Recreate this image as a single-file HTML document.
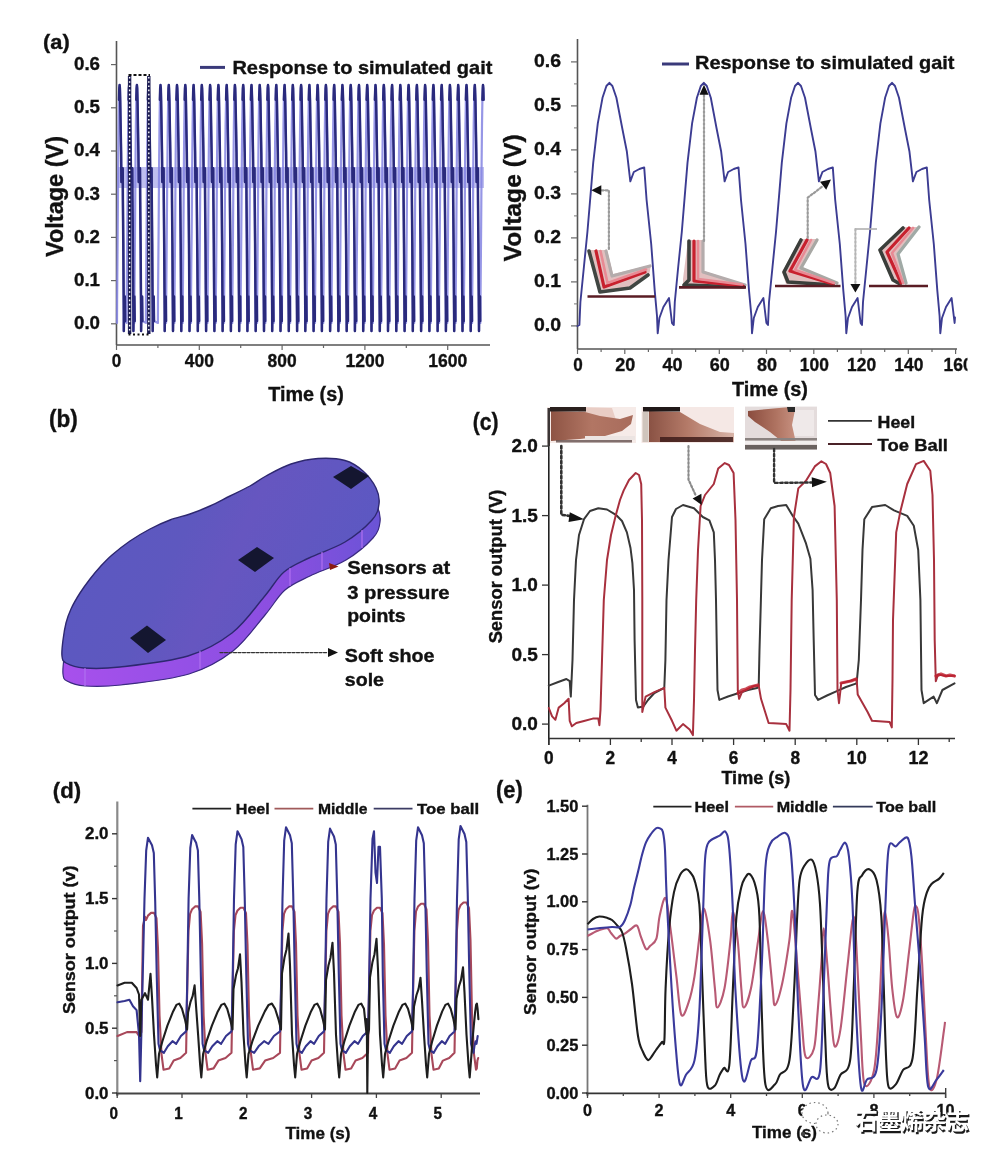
<!DOCTYPE html>
<html><head><meta charset="utf-8"><title>Figure</title>
<style>
html,body{margin:0;padding:0;background:#fff;}
body{width:1000px;height:1164px;overflow:hidden;}
svg{display:block;font-family:'Liberation Sans', Arial, sans-serif;filter:blur(0.45px);}
</style></head><body>
<svg width="1000" height="1164" viewBox="0 0 1000 1164">
<line x1="116.5" y1="41.0" x2="116.5" y2="345.0" stroke="#555" stroke-width="1.6"/>
<line x1="116.5" y1="345.0" x2="490.0" y2="345.0" stroke="#555" stroke-width="1.6"/>
<line x1="111.0" y1="323.8" x2="116.5" y2="323.8" stroke="#666" stroke-width="1.2"/>
<text x="100" y="329.1" font-size="18.5" font-weight="bold" text-anchor="end" fill="#111" stroke="#111" stroke-width="0.35" textLength="26" lengthAdjust="spacingAndGlyphs">0.0</text>
<line x1="111.0" y1="280.6" x2="116.5" y2="280.6" stroke="#666" stroke-width="1.2"/>
<text x="100" y="285.90000000000003" font-size="18.5" font-weight="bold" text-anchor="end" fill="#111" stroke="#111" stroke-width="0.35" textLength="26" lengthAdjust="spacingAndGlyphs">0.1</text>
<line x1="111.0" y1="237.4" x2="116.5" y2="237.4" stroke="#666" stroke-width="1.2"/>
<text x="100" y="242.70000000000002" font-size="18.5" font-weight="bold" text-anchor="end" fill="#111" stroke="#111" stroke-width="0.35" textLength="26" lengthAdjust="spacingAndGlyphs">0.2</text>
<line x1="111.0" y1="194.2" x2="116.5" y2="194.2" stroke="#666" stroke-width="1.2"/>
<text x="100" y="199.5" font-size="18.5" font-weight="bold" text-anchor="end" fill="#111" stroke="#111" stroke-width="0.35" textLength="26" lengthAdjust="spacingAndGlyphs">0.3</text>
<line x1="111.0" y1="151.0" x2="116.5" y2="151.0" stroke="#666" stroke-width="1.2"/>
<text x="100" y="156.3" font-size="18.5" font-weight="bold" text-anchor="end" fill="#111" stroke="#111" stroke-width="0.35" textLength="26" lengthAdjust="spacingAndGlyphs">0.4</text>
<line x1="111.0" y1="107.8" x2="116.5" y2="107.8" stroke="#666" stroke-width="1.2"/>
<text x="100" y="113.10000000000001" font-size="18.5" font-weight="bold" text-anchor="end" fill="#111" stroke="#111" stroke-width="0.35" textLength="26" lengthAdjust="spacingAndGlyphs">0.5</text>
<line x1="111.0" y1="64.6" x2="116.5" y2="64.6" stroke="#666" stroke-width="1.2"/>
<text x="100" y="69.89999999999996" font-size="18.5" font-weight="bold" text-anchor="end" fill="#111" stroke="#111" stroke-width="0.35" textLength="26" lengthAdjust="spacingAndGlyphs">0.6</text>
<line x1="116.5" y1="345.0" x2="116.5" y2="350.0" stroke="#666" stroke-width="1.2"/>
<text x="116.5" y="367" font-size="18.5" font-weight="bold" text-anchor="middle" fill="#111" stroke="#111" stroke-width="0.35" textLength="9.5" lengthAdjust="spacingAndGlyphs">0</text>
<line x1="157.9" y1="345.0" x2="157.9" y2="348.0" stroke="#666" stroke-width="1.2"/>
<line x1="199.3" y1="345.0" x2="199.3" y2="350.0" stroke="#666" stroke-width="1.2"/>
<text x="199.3" y="367" font-size="18.5" font-weight="bold" text-anchor="middle" fill="#111" stroke="#111" stroke-width="0.35" textLength="29" lengthAdjust="spacingAndGlyphs">400</text>
<line x1="240.7" y1="345.0" x2="240.7" y2="348.0" stroke="#666" stroke-width="1.2"/>
<line x1="282.1" y1="345.0" x2="282.1" y2="350.0" stroke="#666" stroke-width="1.2"/>
<text x="282.1" y="367" font-size="18.5" font-weight="bold" text-anchor="middle" fill="#111" stroke="#111" stroke-width="0.35" textLength="29" lengthAdjust="spacingAndGlyphs">800</text>
<line x1="323.5" y1="345.0" x2="323.5" y2="348.0" stroke="#666" stroke-width="1.2"/>
<line x1="364.9" y1="345.0" x2="364.9" y2="350.0" stroke="#666" stroke-width="1.2"/>
<text x="364.9" y="367" font-size="18.5" font-weight="bold" text-anchor="middle" fill="#111" stroke="#111" stroke-width="0.35" textLength="39" lengthAdjust="spacingAndGlyphs">1200</text>
<line x1="406.3" y1="345.0" x2="406.3" y2="348.0" stroke="#666" stroke-width="1.2"/>
<line x1="447.7" y1="345.0" x2="447.7" y2="350.0" stroke="#666" stroke-width="1.2"/>
<text x="447.7" y="367" font-size="18.5" font-weight="bold" text-anchor="middle" fill="#111" stroke="#111" stroke-width="0.35" textLength="39" lengthAdjust="spacingAndGlyphs">1600</text>
<text x="306" y="400.5" font-size="19.5" font-weight="bold" text-anchor="middle" fill="#111" stroke="#111" stroke-width="0.35" textLength="75.5" lengthAdjust="spacingAndGlyphs">Time (s)</text>
<text x="62.5" y="196.5" font-size="23.5" font-weight="bold" text-anchor="middle" fill="#111" stroke="#111" stroke-width="0.35" textLength="121" lengthAdjust="spacingAndGlyphs" transform="rotate(-90 62.5 196.5)">Voltage (V)</text>
<text x="43.1" y="49" font-size="21" font-weight="bold" text-anchor="start" fill="#111" stroke="#111" stroke-width="0.35" textLength="26.7" lengthAdjust="spacingAndGlyphs">(a)</text>
<rect x="118" y="167" width="366" height="21" fill="#8080e0" fill-opacity="0.5"/>
<polyline points="117.0,322.9 117.1,300.3 117.4,266.0 117.7,231.6 118.0,191.0 118.2,163.7 118.6,125.0 119.0,99.8 119.3,88.3 119.6,85.1 119.9,88.3 120.2,99.8 120.7,129.5 121.1,152.3 121.4,181.9 121.7,172.7 122.2,169.8 122.7,168.2 122.9,200.2 123.3,243.4 123.6,288.9 123.8,314.1 123.8,331.1 124.0,316.0 124.3,305.2 124.8,296.4 125.1,321.0 126.6,322.9 126.7,300.3 127.0,266.0 127.3,231.6 127.6,191.0 127.8,163.7 128.2,125.0 128.6,99.8 128.9,88.3 129.2,85.1 129.5,88.3 129.8,99.8 130.3,129.5 130.7,152.3 131.0,181.9 131.3,172.7 131.8,169.8 132.3,168.2 132.5,200.2 132.9,243.4 133.2,288.9 133.4,314.1 133.4,331.1 133.6,316.0 133.9,305.2 134.4,296.4 134.7,321.0 134.3,322.9 134.4,300.3 134.7,266.0 135.0,231.6 135.3,191.0 135.5,163.7 135.9,125.0 136.3,99.8 136.6,88.3 136.9,85.1 137.2,88.3 137.5,99.8 138.0,129.5 138.4,152.3 138.7,181.9 139.0,172.7 139.5,169.8 140.0,168.2 140.2,200.2 140.6,243.4 140.9,288.9 141.1,314.1 141.1,331.1 141.3,316.0 141.6,305.2 142.1,296.4 142.4,321.0 145.9,322.9 146.0,300.3 146.3,266.0 146.6,231.6 146.9,191.0 147.1,163.7 147.5,125.0 147.9,99.8 148.2,88.3 148.5,85.1 148.8,88.3 149.1,99.8 149.6,129.5 150.0,152.3 150.3,181.9 150.6,172.7 151.1,169.8 151.6,168.2 151.8,200.2 152.2,243.4 152.5,288.9 152.7,314.1 152.7,331.1 152.9,316.0 153.2,305.2 153.7,296.4 154.0,321.0 157.9,322.9 158.0,300.3 158.3,266.0 158.6,231.6 158.9,191.0 159.1,163.7 159.5,125.0 159.9,99.8 160.2,88.3 160.5,85.1 160.8,88.3 161.1,99.8 161.6,129.5 162.0,152.3 162.3,181.9 162.6,172.7 163.1,169.8 163.6,168.2 163.8,200.2 164.2,243.4 164.5,288.9 164.7,314.1 164.7,331.1 164.9,316.0 165.2,305.2 165.7,296.4 166.0,321.0 166.1,322.9 166.2,300.3 166.5,266.0 166.8,231.6 167.1,191.0 167.4,163.7 167.8,125.0 168.2,99.8 168.5,88.3 168.8,85.1 169.0,88.3 169.4,99.8 169.9,129.5 170.3,152.3 170.6,181.9 170.9,172.7 171.4,169.8 171.8,168.2 172.0,200.2 172.4,243.4 172.7,288.9 172.9,314.1 173.0,331.1 173.2,316.0 173.5,305.2 174.0,296.4 174.3,321.0 174.4,322.9 174.5,300.3 174.8,266.0 175.1,231.6 175.4,191.0 175.6,163.7 176.0,125.0 176.4,99.8 176.8,88.3 177.0,85.1 177.3,88.3 177.7,99.8 178.2,129.5 178.6,152.3 178.9,181.9 179.2,172.7 179.7,169.8 180.1,168.2 180.3,200.2 180.7,243.4 181.0,288.9 181.2,314.1 181.3,331.1 181.4,316.0 181.8,305.2 182.3,296.4 182.5,321.0 182.7,322.9 182.8,300.3 183.1,266.0 183.4,231.6 183.7,191.0 183.9,163.7 184.3,125.0 184.7,99.8 185.0,88.3 185.3,85.1 185.6,88.3 185.9,99.8 186.4,129.5 186.8,152.3 187.1,181.9 187.4,172.7 187.9,169.8 188.4,168.2 188.6,200.2 189.0,243.4 189.3,288.9 189.5,314.1 189.5,331.1 189.7,316.0 190.0,305.2 190.5,296.4 190.8,321.0 191.0,322.9 191.0,300.3 191.3,266.0 191.7,231.6 192.0,191.0 192.2,163.7 192.6,125.0 193.0,99.8 193.3,88.3 193.6,85.1 193.8,88.3 194.2,99.8 194.7,129.5 195.1,152.3 195.4,181.9 195.7,172.7 196.2,169.8 196.6,168.2 196.8,200.2 197.2,243.4 197.6,288.9 197.8,314.1 197.8,331.1 198.0,316.0 198.3,305.2 198.8,296.4 199.1,321.0 199.2,322.9 199.3,300.3 199.6,266.0 199.9,231.6 200.2,191.0 200.4,163.7 200.8,125.0 201.2,99.8 201.6,88.3 201.8,85.1 202.1,88.3 202.5,99.8 203.0,129.5 203.4,152.3 203.7,181.9 204.0,172.7 204.5,169.8 204.9,168.2 205.1,200.2 205.5,243.4 205.8,288.9 206.0,314.1 206.1,331.1 206.2,316.0 206.6,305.2 207.1,296.4 207.3,321.0 207.5,322.9 207.6,300.3 207.9,266.0 208.2,231.6 208.5,191.0 208.7,163.7 209.1,125.0 209.5,99.8 209.9,88.3 210.1,85.1 210.4,88.3 210.7,99.8 211.2,129.5 211.6,152.3 212.0,181.9 212.3,172.7 212.7,169.8 213.2,168.2 213.4,200.2 213.8,243.4 214.1,288.9 214.3,314.1 214.4,331.1 214.5,316.0 214.9,305.2 215.3,296.4 215.6,321.0 215.8,322.9 215.8,300.3 216.2,266.0 216.5,231.6 216.8,191.0 217.0,163.7 217.4,125.0 217.8,99.8 218.1,88.3 218.4,85.1 218.7,88.3 219.0,99.8 219.5,129.5 219.9,152.3 220.2,181.9 220.5,172.7 221.0,169.8 221.4,168.2 221.7,200.2 222.1,243.4 222.4,288.9 222.6,314.1 222.6,331.1 222.8,316.0 223.1,305.2 223.6,296.4 223.9,321.0 224.0,322.9 224.1,300.3 224.4,266.0 224.7,231.6 225.0,191.0 225.2,163.7 225.6,125.0 226.1,99.8 226.4,88.3 226.7,85.1 226.9,88.3 227.3,99.8 227.8,129.5 228.2,152.3 228.5,181.9 228.8,172.7 229.3,169.8 229.7,168.2 229.9,200.2 230.3,243.4 230.6,288.9 230.8,314.1 230.9,331.1 231.0,316.0 231.4,305.2 231.9,296.4 232.1,321.0 232.3,322.9 232.4,300.3 232.7,266.0 233.0,231.6 233.3,191.0 233.5,163.7 233.9,125.0 234.3,99.8 234.7,88.3 234.9,85.1 235.2,88.3 235.5,99.8 236.1,129.5 236.5,152.3 236.8,181.9 237.1,172.7 237.6,169.8 238.0,168.2 238.2,200.2 238.6,243.4 238.9,288.9 239.1,314.1 239.2,331.1 239.3,316.0 239.7,305.2 240.2,296.4 240.4,321.0 240.6,322.9 240.7,300.3 241.0,266.0 241.3,231.6 241.6,191.0 241.8,163.7 242.2,125.0 242.6,99.8 242.9,88.3 243.2,85.1 243.5,88.3 243.8,99.8 244.3,129.5 244.7,152.3 245.0,181.9 245.3,172.7 245.8,169.8 246.3,168.2 246.5,200.2 246.9,243.4 247.2,288.9 247.4,314.1 247.4,331.1 247.6,316.0 247.9,305.2 248.4,296.4 248.7,321.0 248.8,322.9 248.9,300.3 249.2,266.0 249.5,231.6 249.8,191.0 250.1,163.7 250.5,125.0 250.9,99.8 251.2,88.3 251.5,85.1 251.7,88.3 252.1,99.8 252.6,129.5 253.0,152.3 253.3,181.9 253.6,172.7 254.1,169.8 254.5,168.2 254.7,200.2 255.1,243.4 255.4,288.9 255.6,314.1 255.7,331.1 255.9,316.0 256.2,305.2 256.7,296.4 257.0,321.0 257.1,322.9 257.2,300.3 257.5,266.0 257.8,231.6 258.1,191.0 258.3,163.7 258.7,125.0 259.1,99.8 259.5,88.3 259.7,85.1 260.0,88.3 260.4,99.8 260.9,129.5 261.3,152.3 261.6,181.9 261.9,172.7 262.4,169.8 262.8,168.2 263.0,200.2 263.4,243.4 263.7,288.9 263.9,314.1 264.0,331.1 264.1,316.0 264.5,305.2 265.0,296.4 265.2,321.0 265.4,322.9 265.5,300.3 265.8,266.0 266.1,231.6 266.4,191.0 266.6,163.7 267.0,125.0 267.4,99.8 267.7,88.3 268.0,85.1 268.3,88.3 268.6,99.8 269.1,129.5 269.5,152.3 269.8,181.9 270.1,172.7 270.6,169.8 271.1,168.2 271.3,200.2 271.7,243.4 272.0,288.9 272.2,314.1 272.2,331.1 272.4,316.0 272.7,305.2 273.2,296.4 273.5,321.0 273.7,322.9 273.7,300.3 274.0,266.0 274.4,231.6 274.7,191.0 274.9,163.7 275.3,125.0 275.7,99.8 276.0,88.3 276.3,85.1 276.5,88.3 276.9,99.8 277.4,129.5 277.8,152.3 278.1,181.9 278.4,172.7 278.9,169.8 279.3,168.2 279.5,200.2 279.9,243.4 280.3,288.9 280.5,314.1 280.5,331.1 280.7,316.0 281.0,305.2 281.5,296.4 281.8,321.0 281.9,322.9 282.0,300.3 282.3,266.0 282.6,231.6 282.9,191.0 283.1,163.7 283.5,125.0 283.9,99.8 284.3,88.3 284.6,85.1 284.8,88.3 285.2,99.8 285.7,129.5 286.1,152.3 286.4,181.9 286.7,172.7 287.2,169.8 287.6,168.2 287.8,200.2 288.2,243.4 288.5,288.9 288.7,314.1 288.8,331.1 288.9,316.0 289.3,305.2 289.8,296.4 290.0,321.0 290.2,322.9 290.3,300.3 290.6,266.0 290.9,231.6 291.2,191.0 291.4,163.7 291.8,125.0 292.2,99.8 292.6,88.3 292.8,85.1 293.1,88.3 293.4,99.8 293.9,129.5 294.3,152.3 294.7,181.9 295.0,172.7 295.4,169.8 295.9,168.2 296.1,200.2 296.5,243.4 296.8,288.9 297.0,314.1 297.1,331.1 297.2,316.0 297.6,305.2 298.0,296.4 298.3,321.0 298.5,322.9 298.5,300.3 298.9,266.0 299.2,231.6 299.5,191.0 299.7,163.7 300.1,125.0 300.5,99.8 300.8,88.3 301.1,85.1 301.4,88.3 301.7,99.8 302.2,129.5 302.6,152.3 302.9,181.9 303.2,172.7 303.7,169.8 304.1,168.2 304.4,200.2 304.8,243.4 305.1,288.9 305.3,314.1 305.3,331.1 305.5,316.0 305.8,305.2 306.3,296.4 306.6,321.0 306.7,322.9 306.8,300.3 307.1,266.0 307.4,231.6 307.7,191.0 307.9,163.7 308.3,125.0 308.8,99.8 309.1,88.3 309.4,85.1 309.6,88.3 310.0,99.8 310.5,129.5 310.9,152.3 311.2,181.9 311.5,172.7 312.0,169.8 312.4,168.2 312.6,200.2 313.0,243.4 313.3,288.9 313.5,314.1 313.6,331.1 313.7,316.0 314.1,305.2 314.6,296.4 314.8,321.0 315.0,322.9 315.1,300.3 315.4,266.0 315.7,231.6 316.0,191.0 316.2,163.7 316.6,125.0 317.0,99.8 317.4,88.3 317.6,85.1 317.9,88.3 318.2,99.8 318.8,129.5 319.2,152.3 319.5,181.9 319.8,172.7 320.3,169.8 320.7,168.2 320.9,200.2 321.3,243.4 321.6,288.9 321.8,314.1 321.9,331.1 322.0,316.0 322.4,305.2 322.9,296.4 323.1,321.0 323.3,322.9 323.4,300.3 323.7,266.0 324.0,231.6 324.3,191.0 324.5,163.7 324.9,125.0 325.3,99.8 325.6,88.3 325.9,85.1 326.2,88.3 326.5,99.8 327.0,129.5 327.4,152.3 327.7,181.9 328.0,172.7 328.5,169.8 329.0,168.2 329.2,200.2 329.6,243.4 329.9,288.9 330.1,314.1 330.1,331.1 330.3,316.0 330.6,305.2 331.1,296.4 331.4,321.0 331.5,322.9 331.6,300.3 331.9,266.0 332.2,231.6 332.5,191.0 332.8,163.7 333.2,125.0 333.6,99.8 333.9,88.3 334.2,85.1 334.4,88.3 334.8,99.8 335.3,129.5 335.7,152.3 336.0,181.9 336.3,172.7 336.8,169.8 337.2,168.2 337.4,200.2 337.8,243.4 338.1,288.9 338.3,314.1 338.4,331.1 338.6,316.0 338.9,305.2 339.4,296.4 339.7,321.0 339.8,322.9 339.9,300.3 340.2,266.0 340.5,231.6 340.8,191.0 341.0,163.7 341.4,125.0 341.8,99.8 342.2,88.3 342.4,85.1 342.7,88.3 343.1,99.8 343.6,129.5 344.0,152.3 344.3,181.9 344.6,172.7 345.1,169.8 345.5,168.2 345.7,200.2 346.1,243.4 346.4,288.9 346.6,314.1 346.7,331.1 346.8,316.0 347.2,305.2 347.7,296.4 347.9,321.0 348.1,322.9 348.2,300.3 348.5,266.0 348.8,231.6 349.1,191.0 349.3,163.7 349.7,125.0 350.1,99.8 350.4,88.3 350.7,85.1 351.0,88.3 351.3,99.8 351.8,129.5 352.2,152.3 352.5,181.9 352.8,172.7 353.3,169.8 353.8,168.2 354.0,200.2 354.4,243.4 354.7,288.9 354.9,314.1 354.9,331.1 355.1,316.0 355.4,305.2 355.9,296.4 356.2,321.0 356.4,322.9 356.4,300.3 356.7,266.0 357.1,231.6 357.4,191.0 357.6,163.7 358.0,125.0 358.4,99.8 358.7,88.3 359.0,85.1 359.2,88.3 359.6,99.8 360.1,129.5 360.5,152.3 360.8,181.9 361.1,172.7 361.6,169.8 362.0,168.2 362.2,200.2 362.6,243.4 363.0,288.9 363.2,314.1 363.2,331.1 363.4,316.0 363.7,305.2 364.2,296.4 364.5,321.0 364.6,322.9 364.7,300.3 365.0,266.0 365.3,231.6 365.6,191.0 365.8,163.7 366.2,125.0 366.6,99.8 367.0,88.3 367.2,85.1 367.5,88.3 367.9,99.8 368.4,129.5 368.8,152.3 369.1,181.9 369.4,172.7 369.9,169.8 370.3,168.2 370.5,200.2 370.9,243.4 371.2,288.9 371.4,314.1 371.5,331.1 371.6,316.0 372.0,305.2 372.5,296.4 372.7,321.0 372.9,322.9 373.0,300.3 373.3,266.0 373.6,231.6 373.9,191.0 374.1,163.7 374.5,125.0 374.9,99.8 375.3,88.3 375.5,85.1 375.8,88.3 376.1,99.8 376.6,129.5 377.0,152.3 377.4,181.9 377.7,172.7 378.1,169.8 378.6,168.2 378.8,200.2 379.2,243.4 379.5,288.9 379.7,314.1 379.8,331.1 379.9,316.0 380.3,305.2 380.7,296.4 381.0,321.0 381.2,322.9 381.2,300.3 381.6,266.0 381.9,231.6 382.2,191.0 382.4,163.7 382.8,125.0 383.2,99.8 383.5,88.3 383.8,85.1 384.1,88.3 384.4,99.8 384.9,129.5 385.3,152.3 385.6,181.9 385.9,172.7 386.4,169.8 386.8,168.2 387.1,200.2 387.5,243.4 387.8,288.9 388.0,314.1 388.0,331.1 388.2,316.0 388.5,305.2 389.0,296.4 389.3,321.0 389.4,322.9 389.5,300.3 389.8,266.0 390.1,231.6 390.4,191.0 390.6,163.7 391.0,125.0 391.5,99.8 391.8,88.3 392.1,85.1 392.3,88.3 392.7,99.8 393.2,129.5 393.6,152.3 393.9,181.9 394.2,172.7 394.7,169.8 395.1,168.2 395.3,200.2 395.7,243.4 396.0,288.9 396.2,314.1 396.3,331.1 396.4,316.0 396.8,305.2 397.3,296.4 397.5,321.0 397.7,322.9 397.8,300.3 398.1,266.0 398.4,231.6 398.7,191.0 398.9,163.7 399.3,125.0 399.7,99.8 400.1,88.3 400.3,85.1 400.6,88.3 400.9,99.8 401.5,129.5 401.9,152.3 402.2,181.9 402.5,172.7 403.0,169.8 403.4,168.2 403.6,200.2 404.0,243.4 404.3,288.9 404.5,314.1 404.6,331.1 404.7,316.0 405.1,305.2 405.6,296.4 405.8,321.0 406.0,322.9 406.1,300.3 406.4,266.0 406.7,231.6 407.0,191.0 407.2,163.7 407.6,125.0 408.0,99.8 408.3,88.3 408.6,85.1 408.9,88.3 409.2,99.8 409.7,129.5 410.1,152.3 410.4,181.9 410.7,172.7 411.2,169.8 411.7,168.2 411.9,200.2 412.3,243.4 412.6,288.9 412.8,314.1 412.8,331.1 413.0,316.0 413.3,305.2 413.8,296.4 414.1,321.0 414.2,322.9 414.3,300.3 414.6,266.0 414.9,231.6 415.2,191.0 415.5,163.7 415.9,125.0 416.3,99.8 416.6,88.3 416.9,85.1 417.1,88.3 417.5,99.8 418.0,129.5 418.4,152.3 418.7,181.9 419.0,172.7 419.5,169.8 419.9,168.2 420.1,200.2 420.5,243.4 420.8,288.9 421.0,314.1 421.1,331.1 421.3,316.0 421.6,305.2 422.1,296.4 422.4,321.0 422.5,322.9 422.6,300.3 422.9,266.0 423.2,231.6 423.5,191.0 423.7,163.7 424.1,125.0 424.5,99.8 424.9,88.3 425.1,85.1 425.4,88.3 425.8,99.8 426.3,129.5 426.7,152.3 427.0,181.9 427.3,172.7 427.8,169.8 428.2,168.2 428.4,200.2 428.8,243.4 429.1,288.9 429.3,314.1 429.4,331.1 429.5,316.0 429.9,305.2 430.4,296.4 430.6,321.0 430.8,322.9 430.9,300.3 431.2,266.0 431.5,231.6 431.8,191.0 432.0,163.7 432.4,125.0 432.8,99.8 433.1,88.3 433.4,85.1 433.7,88.3 434.0,99.8 434.5,129.5 434.9,152.3 435.2,181.9 435.5,172.7 436.0,169.8 436.5,168.2 436.7,200.2 437.1,243.4 437.4,288.9 437.6,314.1 437.6,331.1 437.8,316.0 438.1,305.2 438.6,296.4 438.9,321.0 439.1,322.9 439.1,300.3 439.4,266.0 439.8,231.6 440.1,191.0 440.3,163.7 440.7,125.0 441.1,99.8 441.4,88.3 441.7,85.1 441.9,88.3 442.3,99.8 442.8,129.5 443.2,152.3 443.5,181.9 443.8,172.7 444.3,169.8 444.7,168.2 444.9,200.2 445.3,243.4 445.7,288.9 445.9,314.1 445.9,331.1 446.1,316.0 446.4,305.2 446.9,296.4 447.2,321.0 447.3,322.9 447.4,300.3 447.7,266.0 448.0,231.6 448.3,191.0 448.5,163.7 448.9,125.0 449.3,99.8 449.7,88.3 449.9,85.1 450.2,88.3 450.6,99.8 451.1,129.5 451.5,152.3 451.8,181.9 452.1,172.7 452.6,169.8 453.0,168.2 453.2,200.2 453.6,243.4 453.9,288.9 454.1,314.1 454.2,331.1 454.3,316.0 454.7,305.2 455.2,296.4 455.4,321.0 455.6,322.9 455.7,300.3 456.0,266.0 456.3,231.6 456.6,191.0 456.8,163.7 457.2,125.0 457.6,99.8 458.0,88.3 458.2,85.1 458.5,88.3 458.8,99.8 459.3,129.5 459.7,152.3 460.1,181.9 460.4,172.7 460.8,169.8 461.3,168.2 461.5,200.2 461.9,243.4 462.2,288.9 462.4,314.1 462.5,331.1 462.6,316.0 463.0,305.2 463.4,296.4 463.7,321.0 463.9,322.9 463.9,300.3 464.3,266.0 464.6,231.6 464.9,191.0 465.1,163.7 465.5,125.0 465.9,99.8 466.2,88.3 466.5,85.1 466.8,88.3 467.1,99.8 467.6,129.5 468.0,152.3 468.3,181.9 468.6,172.7 469.1,169.8 469.5,168.2 469.8,200.2 470.2,243.4 470.5,288.9 470.7,314.1 470.7,331.1 470.9,316.0 471.2,305.2 471.7,296.4 472.0,321.0 472.1,322.9 472.2,300.3 472.5,266.0 472.8,231.6 473.1,191.0 473.3,163.7 473.7,125.0 474.2,99.8 474.5,88.3 474.8,85.1 475.0,88.3 475.4,99.8 475.9,129.5 476.3,152.3 476.6,181.9 476.9,172.7 477.4,169.8 477.8,168.2 478.0,200.2 478.4,243.4 478.7,288.9 478.9,314.1 479.0,331.1 479.1,316.0 479.5,305.2 480.0,296.4 480.2,321.0 480.4,322.9 480.5,300.3 480.8,266.0 481.1,231.6 481.4,191.0 481.6,163.7 482.0,125.0 482.4,99.8 482.8,88.3 483.0,85.1 483.3,88.3 483.6,99.8" fill="none" stroke="#8484e2" stroke-width="2.2" stroke-linejoin="round" stroke-linecap="round" stroke-opacity="0.85"/>
<polyline points="119.0,99.8 119.3,88.3 119.6,85.1 119.9,88.3 120.2,99.8 120.7,129.5 121.1,152.3 121.4,181.9 121.7,172.7 122.2,169.8 122.7,168.2 122.9,200.2 123.3,243.4 123.6,288.9 123.8,314.1 123.8,331.1 124.0,316.0 124.3,305.2 124.8,296.4 125.1,321.0" fill="none" stroke="#2a2a7c" stroke-width="2.5" stroke-linejoin="round" stroke-linecap="round"/>
<polyline points="128.6,99.8 128.9,88.3 129.2,85.1 129.5,88.3 129.8,99.8 130.3,129.5 130.7,152.3 131.0,181.9 131.3,172.7 131.8,169.8 132.3,168.2 132.5,200.2 132.9,243.4 133.2,288.9 133.4,314.1 133.4,331.1 133.6,316.0 133.9,305.2 134.4,296.4 134.7,321.0" fill="none" stroke="#2a2a7c" stroke-width="2.5" stroke-linejoin="round" stroke-linecap="round"/>
<polyline points="136.3,99.8 136.6,88.3 136.9,85.1 137.2,88.3 137.5,99.8 138.0,129.5 138.4,152.3 138.7,181.9 139.0,172.7 139.5,169.8 140.0,168.2 140.2,200.2 140.6,243.4 140.9,288.9 141.1,314.1 141.1,331.1 141.3,316.0 141.6,305.2 142.1,296.4 142.4,321.0" fill="none" stroke="#2a2a7c" stroke-width="2.5" stroke-linejoin="round" stroke-linecap="round"/>
<polyline points="147.9,99.8 148.2,88.3 148.5,85.1 148.8,88.3 149.1,99.8 149.6,129.5 150.0,152.3 150.3,181.9 150.6,172.7 151.1,169.8 151.6,168.2 151.8,200.2 152.2,243.4 152.5,288.9 152.7,314.1 152.7,331.1 152.9,316.0 153.2,305.2 153.7,296.4 154.0,321.0" fill="none" stroke="#2a2a7c" stroke-width="2.5" stroke-linejoin="round" stroke-linecap="round"/>
<polyline points="159.9,99.8 160.2,88.3 160.5,85.1 160.8,88.3 161.1,99.8 161.6,129.5 162.0,152.3 162.3,181.9 162.6,172.7 163.1,169.8 163.6,168.2 163.8,200.2 164.2,243.4 164.5,288.9 164.7,314.1 164.7,331.1 164.9,316.0 165.2,305.2 165.7,296.4 166.0,321.0" fill="none" stroke="#2a2a7c" stroke-width="2.5" stroke-linejoin="round" stroke-linecap="round"/>
<polyline points="168.2,99.8 168.5,88.3 168.8,85.1 169.0,88.3 169.4,99.8 169.9,129.5 170.3,152.3 170.6,181.9 170.9,172.7 171.4,169.8 171.8,168.2 172.0,200.2 172.4,243.4 172.7,288.9 172.9,314.1 173.0,331.1 173.2,316.0 173.5,305.2 174.0,296.4 174.3,321.0" fill="none" stroke="#2a2a7c" stroke-width="2.5" stroke-linejoin="round" stroke-linecap="round"/>
<polyline points="176.4,99.8 176.8,88.3 177.0,85.1 177.3,88.3 177.7,99.8 178.2,129.5 178.6,152.3 178.9,181.9 179.2,172.7 179.7,169.8 180.1,168.2 180.3,200.2 180.7,243.4 181.0,288.9 181.2,314.1 181.3,331.1 181.4,316.0 181.8,305.2 182.3,296.4 182.5,321.0" fill="none" stroke="#2a2a7c" stroke-width="2.5" stroke-linejoin="round" stroke-linecap="round"/>
<polyline points="184.7,99.8 185.0,88.3 185.3,85.1 185.6,88.3 185.9,99.8 186.4,129.5 186.8,152.3 187.1,181.9 187.4,172.7 187.9,169.8 188.4,168.2 188.6,200.2 189.0,243.4 189.3,288.9 189.5,314.1 189.5,331.1 189.7,316.0 190.0,305.2 190.5,296.4 190.8,321.0" fill="none" stroke="#2a2a7c" stroke-width="2.5" stroke-linejoin="round" stroke-linecap="round"/>
<polyline points="193.0,99.8 193.3,88.3 193.6,85.1 193.8,88.3 194.2,99.8 194.7,129.5 195.1,152.3 195.4,181.9 195.7,172.7 196.2,169.8 196.6,168.2 196.8,200.2 197.2,243.4 197.6,288.9 197.8,314.1 197.8,331.1 198.0,316.0 198.3,305.2 198.8,296.4 199.1,321.0" fill="none" stroke="#2a2a7c" stroke-width="2.5" stroke-linejoin="round" stroke-linecap="round"/>
<polyline points="201.2,99.8 201.6,88.3 201.8,85.1 202.1,88.3 202.5,99.8 203.0,129.5 203.4,152.3 203.7,181.9 204.0,172.7 204.5,169.8 204.9,168.2 205.1,200.2 205.5,243.4 205.8,288.9 206.0,314.1 206.1,331.1 206.2,316.0 206.6,305.2 207.1,296.4 207.3,321.0" fill="none" stroke="#2a2a7c" stroke-width="2.5" stroke-linejoin="round" stroke-linecap="round"/>
<polyline points="209.5,99.8 209.9,88.3 210.1,85.1 210.4,88.3 210.7,99.8 211.2,129.5 211.6,152.3 212.0,181.9 212.3,172.7 212.7,169.8 213.2,168.2 213.4,200.2 213.8,243.4 214.1,288.9 214.3,314.1 214.4,331.1 214.5,316.0 214.9,305.2 215.3,296.4 215.6,321.0" fill="none" stroke="#2a2a7c" stroke-width="2.5" stroke-linejoin="round" stroke-linecap="round"/>
<polyline points="217.8,99.8 218.1,88.3 218.4,85.1 218.7,88.3 219.0,99.8 219.5,129.5 219.9,152.3 220.2,181.9 220.5,172.7 221.0,169.8 221.4,168.2 221.7,200.2 222.1,243.4 222.4,288.9 222.6,314.1 222.6,331.1 222.8,316.0 223.1,305.2 223.6,296.4 223.9,321.0" fill="none" stroke="#2a2a7c" stroke-width="2.5" stroke-linejoin="round" stroke-linecap="round"/>
<polyline points="226.1,99.8 226.4,88.3 226.7,85.1 226.9,88.3 227.3,99.8 227.8,129.5 228.2,152.3 228.5,181.9 228.8,172.7 229.3,169.8 229.7,168.2 229.9,200.2 230.3,243.4 230.6,288.9 230.8,314.1 230.9,331.1 231.0,316.0 231.4,305.2 231.9,296.4 232.1,321.0" fill="none" stroke="#2a2a7c" stroke-width="2.5" stroke-linejoin="round" stroke-linecap="round"/>
<polyline points="234.3,99.8 234.7,88.3 234.9,85.1 235.2,88.3 235.5,99.8 236.1,129.5 236.5,152.3 236.8,181.9 237.1,172.7 237.6,169.8 238.0,168.2 238.2,200.2 238.6,243.4 238.9,288.9 239.1,314.1 239.2,331.1 239.3,316.0 239.7,305.2 240.2,296.4 240.4,321.0" fill="none" stroke="#2a2a7c" stroke-width="2.5" stroke-linejoin="round" stroke-linecap="round"/>
<polyline points="242.6,99.8 242.9,88.3 243.2,85.1 243.5,88.3 243.8,99.8 244.3,129.5 244.7,152.3 245.0,181.9 245.3,172.7 245.8,169.8 246.3,168.2 246.5,200.2 246.9,243.4 247.2,288.9 247.4,314.1 247.4,331.1 247.6,316.0 247.9,305.2 248.4,296.4 248.7,321.0" fill="none" stroke="#2a2a7c" stroke-width="2.5" stroke-linejoin="round" stroke-linecap="round"/>
<polyline points="250.9,99.8 251.2,88.3 251.5,85.1 251.7,88.3 252.1,99.8 252.6,129.5 253.0,152.3 253.3,181.9 253.6,172.7 254.1,169.8 254.5,168.2 254.7,200.2 255.1,243.4 255.4,288.9 255.6,314.1 255.7,331.1 255.9,316.0 256.2,305.2 256.7,296.4 257.0,321.0" fill="none" stroke="#2a2a7c" stroke-width="2.5" stroke-linejoin="round" stroke-linecap="round"/>
<polyline points="259.1,99.8 259.5,88.3 259.7,85.1 260.0,88.3 260.4,99.8 260.9,129.5 261.3,152.3 261.6,181.9 261.9,172.7 262.4,169.8 262.8,168.2 263.0,200.2 263.4,243.4 263.7,288.9 263.9,314.1 264.0,331.1 264.1,316.0 264.5,305.2 265.0,296.4 265.2,321.0" fill="none" stroke="#2a2a7c" stroke-width="2.5" stroke-linejoin="round" stroke-linecap="round"/>
<polyline points="267.4,99.8 267.7,88.3 268.0,85.1 268.3,88.3 268.6,99.8 269.1,129.5 269.5,152.3 269.8,181.9 270.1,172.7 270.6,169.8 271.1,168.2 271.3,200.2 271.7,243.4 272.0,288.9 272.2,314.1 272.2,331.1 272.4,316.0 272.7,305.2 273.2,296.4 273.5,321.0" fill="none" stroke="#2a2a7c" stroke-width="2.5" stroke-linejoin="round" stroke-linecap="round"/>
<polyline points="275.7,99.8 276.0,88.3 276.3,85.1 276.5,88.3 276.9,99.8 277.4,129.5 277.8,152.3 278.1,181.9 278.4,172.7 278.9,169.8 279.3,168.2 279.5,200.2 279.9,243.4 280.3,288.9 280.5,314.1 280.5,331.1 280.7,316.0 281.0,305.2 281.5,296.4 281.8,321.0" fill="none" stroke="#2a2a7c" stroke-width="2.5" stroke-linejoin="round" stroke-linecap="round"/>
<polyline points="283.9,99.8 284.3,88.3 284.6,85.1 284.8,88.3 285.2,99.8 285.7,129.5 286.1,152.3 286.4,181.9 286.7,172.7 287.2,169.8 287.6,168.2 287.8,200.2 288.2,243.4 288.5,288.9 288.7,314.1 288.8,331.1 288.9,316.0 289.3,305.2 289.8,296.4 290.0,321.0" fill="none" stroke="#2a2a7c" stroke-width="2.5" stroke-linejoin="round" stroke-linecap="round"/>
<polyline points="292.2,99.8 292.6,88.3 292.8,85.1 293.1,88.3 293.4,99.8 293.9,129.5 294.3,152.3 294.7,181.9 295.0,172.7 295.4,169.8 295.9,168.2 296.1,200.2 296.5,243.4 296.8,288.9 297.0,314.1 297.1,331.1 297.2,316.0 297.6,305.2 298.0,296.4 298.3,321.0" fill="none" stroke="#2a2a7c" stroke-width="2.5" stroke-linejoin="round" stroke-linecap="round"/>
<polyline points="300.5,99.8 300.8,88.3 301.1,85.1 301.4,88.3 301.7,99.8 302.2,129.5 302.6,152.3 302.9,181.9 303.2,172.7 303.7,169.8 304.1,168.2 304.4,200.2 304.8,243.4 305.1,288.9 305.3,314.1 305.3,331.1 305.5,316.0 305.8,305.2 306.3,296.4 306.6,321.0" fill="none" stroke="#2a2a7c" stroke-width="2.5" stroke-linejoin="round" stroke-linecap="round"/>
<polyline points="308.8,99.8 309.1,88.3 309.4,85.1 309.6,88.3 310.0,99.8 310.5,129.5 310.9,152.3 311.2,181.9 311.5,172.7 312.0,169.8 312.4,168.2 312.6,200.2 313.0,243.4 313.3,288.9 313.5,314.1 313.6,331.1 313.7,316.0 314.1,305.2 314.6,296.4 314.8,321.0" fill="none" stroke="#2a2a7c" stroke-width="2.5" stroke-linejoin="round" stroke-linecap="round"/>
<polyline points="317.0,99.8 317.4,88.3 317.6,85.1 317.9,88.3 318.2,99.8 318.8,129.5 319.2,152.3 319.5,181.9 319.8,172.7 320.3,169.8 320.7,168.2 320.9,200.2 321.3,243.4 321.6,288.9 321.8,314.1 321.9,331.1 322.0,316.0 322.4,305.2 322.9,296.4 323.1,321.0" fill="none" stroke="#2a2a7c" stroke-width="2.5" stroke-linejoin="round" stroke-linecap="round"/>
<polyline points="325.3,99.8 325.6,88.3 325.9,85.1 326.2,88.3 326.5,99.8 327.0,129.5 327.4,152.3 327.7,181.9 328.0,172.7 328.5,169.8 329.0,168.2 329.2,200.2 329.6,243.4 329.9,288.9 330.1,314.1 330.1,331.1 330.3,316.0 330.6,305.2 331.1,296.4 331.4,321.0" fill="none" stroke="#2a2a7c" stroke-width="2.5" stroke-linejoin="round" stroke-linecap="round"/>
<polyline points="333.6,99.8 333.9,88.3 334.2,85.1 334.4,88.3 334.8,99.8 335.3,129.5 335.7,152.3 336.0,181.9 336.3,172.7 336.8,169.8 337.2,168.2 337.4,200.2 337.8,243.4 338.1,288.9 338.3,314.1 338.4,331.1 338.6,316.0 338.9,305.2 339.4,296.4 339.7,321.0" fill="none" stroke="#2a2a7c" stroke-width="2.5" stroke-linejoin="round" stroke-linecap="round"/>
<polyline points="341.8,99.8 342.2,88.3 342.4,85.1 342.7,88.3 343.1,99.8 343.6,129.5 344.0,152.3 344.3,181.9 344.6,172.7 345.1,169.8 345.5,168.2 345.7,200.2 346.1,243.4 346.4,288.9 346.6,314.1 346.7,331.1 346.8,316.0 347.2,305.2 347.7,296.4 347.9,321.0" fill="none" stroke="#2a2a7c" stroke-width="2.5" stroke-linejoin="round" stroke-linecap="round"/>
<polyline points="350.1,99.8 350.4,88.3 350.7,85.1 351.0,88.3 351.3,99.8 351.8,129.5 352.2,152.3 352.5,181.9 352.8,172.7 353.3,169.8 353.8,168.2 354.0,200.2 354.4,243.4 354.7,288.9 354.9,314.1 354.9,331.1 355.1,316.0 355.4,305.2 355.9,296.4 356.2,321.0" fill="none" stroke="#2a2a7c" stroke-width="2.5" stroke-linejoin="round" stroke-linecap="round"/>
<polyline points="358.4,99.8 358.7,88.3 359.0,85.1 359.2,88.3 359.6,99.8 360.1,129.5 360.5,152.3 360.8,181.9 361.1,172.7 361.6,169.8 362.0,168.2 362.2,200.2 362.6,243.4 363.0,288.9 363.2,314.1 363.2,331.1 363.4,316.0 363.7,305.2 364.2,296.4 364.5,321.0" fill="none" stroke="#2a2a7c" stroke-width="2.5" stroke-linejoin="round" stroke-linecap="round"/>
<polyline points="366.6,99.8 367.0,88.3 367.2,85.1 367.5,88.3 367.9,99.8 368.4,129.5 368.8,152.3 369.1,181.9 369.4,172.7 369.9,169.8 370.3,168.2 370.5,200.2 370.9,243.4 371.2,288.9 371.4,314.1 371.5,331.1 371.6,316.0 372.0,305.2 372.5,296.4 372.7,321.0" fill="none" stroke="#2a2a7c" stroke-width="2.5" stroke-linejoin="round" stroke-linecap="round"/>
<polyline points="374.9,99.8 375.3,88.3 375.5,85.1 375.8,88.3 376.1,99.8 376.6,129.5 377.0,152.3 377.4,181.9 377.7,172.7 378.1,169.8 378.6,168.2 378.8,200.2 379.2,243.4 379.5,288.9 379.7,314.1 379.8,331.1 379.9,316.0 380.3,305.2 380.7,296.4 381.0,321.0" fill="none" stroke="#2a2a7c" stroke-width="2.5" stroke-linejoin="round" stroke-linecap="round"/>
<polyline points="383.2,99.8 383.5,88.3 383.8,85.1 384.1,88.3 384.4,99.8 384.9,129.5 385.3,152.3 385.6,181.9 385.9,172.7 386.4,169.8 386.8,168.2 387.1,200.2 387.5,243.4 387.8,288.9 388.0,314.1 388.0,331.1 388.2,316.0 388.5,305.2 389.0,296.4 389.3,321.0" fill="none" stroke="#2a2a7c" stroke-width="2.5" stroke-linejoin="round" stroke-linecap="round"/>
<polyline points="391.5,99.8 391.8,88.3 392.1,85.1 392.3,88.3 392.7,99.8 393.2,129.5 393.6,152.3 393.9,181.9 394.2,172.7 394.7,169.8 395.1,168.2 395.3,200.2 395.7,243.4 396.0,288.9 396.2,314.1 396.3,331.1 396.4,316.0 396.8,305.2 397.3,296.4 397.5,321.0" fill="none" stroke="#2a2a7c" stroke-width="2.5" stroke-linejoin="round" stroke-linecap="round"/>
<polyline points="399.7,99.8 400.1,88.3 400.3,85.1 400.6,88.3 400.9,99.8 401.5,129.5 401.9,152.3 402.2,181.9 402.5,172.7 403.0,169.8 403.4,168.2 403.6,200.2 404.0,243.4 404.3,288.9 404.5,314.1 404.6,331.1 404.7,316.0 405.1,305.2 405.6,296.4 405.8,321.0" fill="none" stroke="#2a2a7c" stroke-width="2.5" stroke-linejoin="round" stroke-linecap="round"/>
<polyline points="408.0,99.8 408.3,88.3 408.6,85.1 408.9,88.3 409.2,99.8 409.7,129.5 410.1,152.3 410.4,181.9 410.7,172.7 411.2,169.8 411.7,168.2 411.9,200.2 412.3,243.4 412.6,288.9 412.8,314.1 412.8,331.1 413.0,316.0 413.3,305.2 413.8,296.4 414.1,321.0" fill="none" stroke="#2a2a7c" stroke-width="2.5" stroke-linejoin="round" stroke-linecap="round"/>
<polyline points="416.3,99.8 416.6,88.3 416.9,85.1 417.1,88.3 417.5,99.8 418.0,129.5 418.4,152.3 418.7,181.9 419.0,172.7 419.5,169.8 419.9,168.2 420.1,200.2 420.5,243.4 420.8,288.9 421.0,314.1 421.1,331.1 421.3,316.0 421.6,305.2 422.1,296.4 422.4,321.0" fill="none" stroke="#2a2a7c" stroke-width="2.5" stroke-linejoin="round" stroke-linecap="round"/>
<polyline points="424.5,99.8 424.9,88.3 425.1,85.1 425.4,88.3 425.8,99.8 426.3,129.5 426.7,152.3 427.0,181.9 427.3,172.7 427.8,169.8 428.2,168.2 428.4,200.2 428.8,243.4 429.1,288.9 429.3,314.1 429.4,331.1 429.5,316.0 429.9,305.2 430.4,296.4 430.6,321.0" fill="none" stroke="#2a2a7c" stroke-width="2.5" stroke-linejoin="round" stroke-linecap="round"/>
<polyline points="432.8,99.8 433.1,88.3 433.4,85.1 433.7,88.3 434.0,99.8 434.5,129.5 434.9,152.3 435.2,181.9 435.5,172.7 436.0,169.8 436.5,168.2 436.7,200.2 437.1,243.4 437.4,288.9 437.6,314.1 437.6,331.1 437.8,316.0 438.1,305.2 438.6,296.4 438.9,321.0" fill="none" stroke="#2a2a7c" stroke-width="2.5" stroke-linejoin="round" stroke-linecap="round"/>
<polyline points="441.1,99.8 441.4,88.3 441.7,85.1 441.9,88.3 442.3,99.8 442.8,129.5 443.2,152.3 443.5,181.9 443.8,172.7 444.3,169.8 444.7,168.2 444.9,200.2 445.3,243.4 445.7,288.9 445.9,314.1 445.9,331.1 446.1,316.0 446.4,305.2 446.9,296.4 447.2,321.0" fill="none" stroke="#2a2a7c" stroke-width="2.5" stroke-linejoin="round" stroke-linecap="round"/>
<polyline points="449.3,99.8 449.7,88.3 449.9,85.1 450.2,88.3 450.6,99.8 451.1,129.5 451.5,152.3 451.8,181.9 452.1,172.7 452.6,169.8 453.0,168.2 453.2,200.2 453.6,243.4 453.9,288.9 454.1,314.1 454.2,331.1 454.3,316.0 454.7,305.2 455.2,296.4 455.4,321.0" fill="none" stroke="#2a2a7c" stroke-width="2.5" stroke-linejoin="round" stroke-linecap="round"/>
<polyline points="457.6,99.8 458.0,88.3 458.2,85.1 458.5,88.3 458.8,99.8 459.3,129.5 459.7,152.3 460.1,181.9 460.4,172.7 460.8,169.8 461.3,168.2 461.5,200.2 461.9,243.4 462.2,288.9 462.4,314.1 462.5,331.1 462.6,316.0 463.0,305.2 463.4,296.4 463.7,321.0" fill="none" stroke="#2a2a7c" stroke-width="2.5" stroke-linejoin="round" stroke-linecap="round"/>
<polyline points="465.9,99.8 466.2,88.3 466.5,85.1 466.8,88.3 467.1,99.8 467.6,129.5 468.0,152.3 468.3,181.9 468.6,172.7 469.1,169.8 469.5,168.2 469.8,200.2 470.2,243.4 470.5,288.9 470.7,314.1 470.7,331.1 470.9,316.0 471.2,305.2 471.7,296.4 472.0,321.0" fill="none" stroke="#2a2a7c" stroke-width="2.5" stroke-linejoin="round" stroke-linecap="round"/>
<polyline points="474.2,99.8 474.5,88.3 474.8,85.1 475.0,88.3 475.4,99.8 475.9,129.5 476.3,152.3 476.6,181.9 476.9,172.7 477.4,169.8 477.8,168.2 478.0,200.2 478.4,243.4 478.7,288.9 478.9,314.1 479.0,331.1 479.1,316.0 479.5,305.2 480.0,296.4 480.2,321.0" fill="none" stroke="#2a2a7c" stroke-width="2.5" stroke-linejoin="round" stroke-linecap="round"/>
<polyline points="482.4,99.8 482.8,88.3 483.0,85.1 483.3,88.3 483.6,99.8" fill="none" stroke="#2a2a7c" stroke-width="2.5" stroke-linejoin="round" stroke-linecap="round"/>
<line x1="200.0" y1="67.4" x2="225.0" y2="67.4" stroke="#3a3a7a" stroke-width="3"/>
<text x="232.4" y="73.5" font-size="18.5" font-weight="bold" text-anchor="start" fill="#111" stroke="#111" stroke-width="0.35" textLength="260" lengthAdjust="spacingAndGlyphs">Response to simulated gait</text>
<line x1="129.6" y1="76.0" x2="129.6" y2="334.0" stroke="#1c1c52" stroke-width="3.4"/>
<line x1="129.6" y1="77.0" x2="129.6" y2="333.0" stroke="#fff" stroke-width="1.4" stroke-dasharray="1.6 2.6"/>
<line x1="148.8" y1="76.0" x2="148.8" y2="334.0" stroke="#1c1c52" stroke-width="3.4"/>
<line x1="148.8" y1="77.0" x2="148.8" y2="333.0" stroke="#fff" stroke-width="1.4" stroke-dasharray="1.6 2.6"/>
<line x1="128.5" y1="75.0" x2="150.0" y2="75.0" stroke="#111" stroke-width="2.2" stroke-dasharray="3 2"/>
<line x1="128.5" y1="334.5" x2="150.0" y2="334.5" stroke="#111" stroke-width="2.2" stroke-dasharray="2 2.5"/>
<line x1="577.5" y1="39.0" x2="577.5" y2="349.0" stroke="#555" stroke-width="1.6"/>
<line x1="577.5" y1="349.0" x2="957.0" y2="349.0" stroke="#555" stroke-width="1.6"/>
<line x1="571.0" y1="325.9" x2="577.5" y2="325.9" stroke="#666" stroke-width="1.2"/>
<text x="561" y="331.2" font-size="18.5" font-weight="bold" text-anchor="end" fill="#111" stroke="#111" stroke-width="0.35" textLength="27" lengthAdjust="spacingAndGlyphs">0.0</text>
<line x1="571.0" y1="281.9" x2="577.5" y2="281.9" stroke="#666" stroke-width="1.2"/>
<text x="561" y="287.2" font-size="18.5" font-weight="bold" text-anchor="end" fill="#111" stroke="#111" stroke-width="0.35" textLength="27" lengthAdjust="spacingAndGlyphs">0.1</text>
<line x1="571.0" y1="237.9" x2="577.5" y2="237.9" stroke="#666" stroke-width="1.2"/>
<text x="561" y="243.2" font-size="18.5" font-weight="bold" text-anchor="end" fill="#111" stroke="#111" stroke-width="0.35" textLength="27" lengthAdjust="spacingAndGlyphs">0.2</text>
<line x1="571.0" y1="193.9" x2="577.5" y2="193.9" stroke="#666" stroke-width="1.2"/>
<text x="561" y="199.19999999999996" font-size="18.5" font-weight="bold" text-anchor="end" fill="#111" stroke="#111" stroke-width="0.35" textLength="27" lengthAdjust="spacingAndGlyphs">0.3</text>
<line x1="571.0" y1="149.9" x2="577.5" y2="149.9" stroke="#666" stroke-width="1.2"/>
<text x="561" y="155.2" font-size="18.5" font-weight="bold" text-anchor="end" fill="#111" stroke="#111" stroke-width="0.35" textLength="27" lengthAdjust="spacingAndGlyphs">0.4</text>
<line x1="571.0" y1="105.9" x2="577.5" y2="105.9" stroke="#666" stroke-width="1.2"/>
<text x="561" y="111.19999999999997" font-size="18.5" font-weight="bold" text-anchor="end" fill="#111" stroke="#111" stroke-width="0.35" textLength="27" lengthAdjust="spacingAndGlyphs">0.5</text>
<line x1="571.0" y1="61.9" x2="577.5" y2="61.9" stroke="#666" stroke-width="1.2"/>
<text x="561" y="67.19999999999992" font-size="18.5" font-weight="bold" text-anchor="end" fill="#111" stroke="#111" stroke-width="0.35" textLength="27" lengthAdjust="spacingAndGlyphs">0.6</text>
<line x1="577.5" y1="349.0" x2="577.5" y2="354.0" stroke="#666" stroke-width="1.2"/>
<text x="578.0" y="371" font-size="18.5" font-weight="bold" text-anchor="middle" fill="#111" stroke="#111" stroke-width="0.35" textLength="9.5" lengthAdjust="spacingAndGlyphs">0</text>
<line x1="601.1" y1="349.0" x2="601.1" y2="352.0" stroke="#666" stroke-width="1.2"/>
<line x1="624.8" y1="349.0" x2="624.8" y2="354.0" stroke="#666" stroke-width="1.2"/>
<text x="625.26" y="371" font-size="18.5" font-weight="bold" text-anchor="middle" fill="#111" stroke="#111" stroke-width="0.35" textLength="20" lengthAdjust="spacingAndGlyphs">20</text>
<line x1="648.4" y1="349.0" x2="648.4" y2="352.0" stroke="#666" stroke-width="1.2"/>
<line x1="672.0" y1="349.0" x2="672.0" y2="354.0" stroke="#666" stroke-width="1.2"/>
<text x="672.52" y="371" font-size="18.5" font-weight="bold" text-anchor="middle" fill="#111" stroke="#111" stroke-width="0.35" textLength="20" lengthAdjust="spacingAndGlyphs">40</text>
<line x1="695.6" y1="349.0" x2="695.6" y2="352.0" stroke="#666" stroke-width="1.2"/>
<line x1="719.3" y1="349.0" x2="719.3" y2="354.0" stroke="#666" stroke-width="1.2"/>
<text x="719.78" y="371" font-size="18.5" font-weight="bold" text-anchor="middle" fill="#111" stroke="#111" stroke-width="0.35" textLength="20" lengthAdjust="spacingAndGlyphs">60</text>
<line x1="742.9" y1="349.0" x2="742.9" y2="352.0" stroke="#666" stroke-width="1.2"/>
<line x1="766.5" y1="349.0" x2="766.5" y2="354.0" stroke="#666" stroke-width="1.2"/>
<text x="767.04" y="371" font-size="18.5" font-weight="bold" text-anchor="middle" fill="#111" stroke="#111" stroke-width="0.35" textLength="20" lengthAdjust="spacingAndGlyphs">80</text>
<line x1="790.2" y1="349.0" x2="790.2" y2="352.0" stroke="#666" stroke-width="1.2"/>
<line x1="813.8" y1="349.0" x2="813.8" y2="354.0" stroke="#666" stroke-width="1.2"/>
<text x="814.3" y="371" font-size="18.5" font-weight="bold" text-anchor="middle" fill="#111" stroke="#111" stroke-width="0.35" textLength="29" lengthAdjust="spacingAndGlyphs">100</text>
<line x1="837.4" y1="349.0" x2="837.4" y2="352.0" stroke="#666" stroke-width="1.2"/>
<line x1="861.1" y1="349.0" x2="861.1" y2="354.0" stroke="#666" stroke-width="1.2"/>
<text x="861.56" y="371" font-size="18.5" font-weight="bold" text-anchor="middle" fill="#111" stroke="#111" stroke-width="0.35" textLength="29" lengthAdjust="spacingAndGlyphs">120</text>
<line x1="884.7" y1="349.0" x2="884.7" y2="352.0" stroke="#666" stroke-width="1.2"/>
<line x1="908.3" y1="349.0" x2="908.3" y2="354.0" stroke="#666" stroke-width="1.2"/>
<text x="908.8199999999999" y="371" font-size="18.5" font-weight="bold" text-anchor="middle" fill="#111" stroke="#111" stroke-width="0.35" textLength="29" lengthAdjust="spacingAndGlyphs">140</text>
<line x1="932.0" y1="349.0" x2="932.0" y2="352.0" stroke="#666" stroke-width="1.2"/>
<line x1="955.6" y1="349.0" x2="955.6" y2="354.0" stroke="#666" stroke-width="1.2"/>
<text x="958.0799999999999" y="371" font-size="18.5" font-weight="bold" text-anchor="middle" fill="#111" stroke="#111" stroke-width="0.35" textLength="29" lengthAdjust="spacingAndGlyphs">160</text>
<text x="770" y="396" font-size="19.5" font-weight="bold" text-anchor="middle" fill="#111" stroke="#111" stroke-width="0.35" textLength="76" lengthAdjust="spacingAndGlyphs">Time (s)</text>
<text x="521.5" y="197.9" font-size="23" font-weight="bold" text-anchor="middle" fill="#111" stroke="#111" stroke-width="0.35" textLength="127" lengthAdjust="spacingAndGlyphs" transform="rotate(-90 521.5 197.9)">Voltage (V)</text>
<line x1="574.0" y1="303.9" x2="577.5" y2="303.9" stroke="#777" stroke-width="1.0"/>
<line x1="574.0" y1="259.9" x2="577.5" y2="259.9" stroke="#777" stroke-width="1.0"/>
<line x1="574.0" y1="215.9" x2="577.5" y2="215.9" stroke="#777" stroke-width="1.0"/>
<line x1="574.0" y1="171.9" x2="577.5" y2="171.9" stroke="#777" stroke-width="1.0"/>
<line x1="574.0" y1="127.9" x2="577.5" y2="127.9" stroke="#777" stroke-width="1.0"/>
<line x1="574.0" y1="83.9" x2="577.5" y2="83.9" stroke="#777" stroke-width="1.0"/>
<polyline points="577.5,326.0 579.4,325.0 580.4,302.0 583.9,267.0 587.4,232.0 590.9,190.6 593.2,162.8 597.8,123.4 602.5,97.8 606.4,86.0 609.4,82.8 612.4,86.0 616.4,97.8 622.2,128.0 626.8,151.2 630.3,181.4 633.8,172.0 639.4,169.0 644.2,167.4 646.6,200.0 651.2,244.0 654.7,290.4 657.0,316.0 657.7,333.3 659.4,318.0 663.4,307.0 669.0,298.0 672.0,323.0 673.8,325.0 674.8,302.0 678.2,267.0 681.8,232.0 685.2,190.6 687.5,162.8 692.1,123.4 696.9,97.8 700.8,86.0 703.8,82.8 706.8,86.0 710.8,97.8 716.5,128.0 721.1,151.2 724.6,181.4 728.1,172.0 733.8,169.0 738.5,167.4 741.0,200.0 745.5,244.0 749.0,290.4 751.4,316.0 752.0,333.3 753.8,318.0 757.8,307.0 763.4,298.0 766.4,323.0 768.0,325.0 769.0,302.0 772.5,267.0 776.0,232.0 779.5,190.6 781.8,162.8 786.4,123.4 791.1,97.8 795.0,86.0 798.0,82.8 801.0,86.0 805.0,97.8 810.8,128.0 815.4,151.2 818.9,181.4 822.4,172.0 828.0,169.0 832.8,167.4 835.2,200.0 839.8,244.0 843.3,290.4 845.6,316.0 846.3,333.3 848.0,318.0 852.0,307.0 857.6,298.0 860.6,323.0 862.0,325.0 863.0,302.0 866.5,267.0 870.0,232.0 873.5,190.6 875.8,162.8 880.4,123.4 885.1,97.8 889.0,86.0 892.0,82.8 895.0,86.0 899.0,97.8 904.8,128.0 909.4,151.2 912.9,181.4 916.4,172.0 922.0,169.0 926.8,167.4 929.2,200.0 933.8,244.0 937.3,290.4 939.6,316.0 940.3,333.3 942.0,318.0 946.0,307.0 951.6,298.0 954.6,323.0 955.0,317.5" fill="none" stroke="#3c3c92" stroke-width="1.9" stroke-linejoin="round" stroke-linecap="round"/>
<line x1="662.0" y1="64.0" x2="689.0" y2="64.0" stroke="#3a3a7a" stroke-width="3"/>
<text x="695" y="69.4" font-size="18.5" font-weight="bold" text-anchor="start" fill="#111" stroke="#111" stroke-width="0.35" textLength="259.5" lengthAdjust="spacingAndGlyphs">Response to simulated gait</text>
<rect x="967.5" y="355" width="32" height="22" fill="#fff"/>
<polygon points="588.0,250.0 607.0,250.0 613.0,274.0 651.0,265.0 649.0,276.0 630.0,289.0 600.0,293.0" fill="#dcb4b4" stroke="none" stroke-width="0" fill-opacity="0.85"/>
<polyline points="606.0,251.0 612.0,276.0 650.0,266.0" fill="none" stroke="#b4acac" stroke-width="3.2" stroke-linejoin="round" stroke-linecap="round"/>
<polyline points="589.0,251.0 600.0,292.0 630.0,288.0 648.0,275.0" fill="none" stroke="#404642" stroke-width="3.6" stroke-linejoin="round" stroke-linecap="round"/>
<polyline points="596.0,251.0 604.0,287.0 645.0,272.0" fill="none" stroke="#c8202e" stroke-width="3.2" stroke-linejoin="round" stroke-linecap="round"/>
<polyline points="600.5,251.0 607.5,283.0 646.0,269.5" fill="none" stroke="#e88a94" stroke-width="2.6" stroke-linejoin="round" stroke-linecap="round"/>
<line x1="587.5" y1="296.5" x2="655.0" y2="296.5" stroke="#5a1c24" stroke-width="2.6"/>
<polygon points="688.0,240.0 704.0,240.0 704.0,271.0 746.0,285.0 683.0,286.0 683.0,279.0" fill="#dcb4b4" stroke="none" stroke-width="0" fill-opacity="0.85"/>
<polyline points="703.0,241.0 703.0,272.0 745.0,285.0" fill="none" stroke="#b4acac" stroke-width="3.2" stroke-linejoin="round" stroke-linecap="round"/>
<polyline points="689.0,241.0 689.0,280.0 684.0,285.0 744.0,287.0" fill="none" stroke="#3c403c" stroke-width="3.6" stroke-linejoin="round" stroke-linecap="round"/>
<polyline points="694.0,241.0 694.0,281.0 743.0,286.0" fill="none" stroke="#c8202e" stroke-width="3.2" stroke-linejoin="round" stroke-linecap="round"/>
<polyline points="698.0,241.0 698.0,279.0 742.0,284.5" fill="none" stroke="#e88a94" stroke-width="2.6" stroke-linejoin="round" stroke-linecap="round"/>
<line x1="679.0" y1="287.4" x2="746.0" y2="287.4" stroke="#5a1c24" stroke-width="2.6"/>
<polygon points="800.0,239.0 818.0,239.0 802.0,267.0 838.0,283.0 786.0,284.0 782.0,272.0" fill="#dcb4b4" stroke="none" stroke-width="0" fill-opacity="0.85"/>
<polyline points="817.0,240.0 801.0,268.0 837.0,283.0" fill="none" stroke="#a8a8a4" stroke-width="3.2" stroke-linejoin="round" stroke-linecap="round"/>
<polyline points="801.0,240.0 784.0,272.0 788.0,282.0 833.0,285.0" fill="none" stroke="#3a3e3a" stroke-width="3.6" stroke-linejoin="round" stroke-linecap="round"/>
<polyline points="807.0,240.0 790.0,271.0 833.0,284.0" fill="none" stroke="#c8202e" stroke-width="3.2" stroke-linejoin="round" stroke-linecap="round"/>
<polyline points="811.0,240.0 795.0,270.0 834.0,283.0" fill="none" stroke="#e88a94" stroke-width="2.6" stroke-linejoin="round" stroke-linecap="round"/>
<line x1="775.0" y1="286.0" x2="840.5" y2="286.0" stroke="#5a1c24" stroke-width="2.6"/>
<polygon points="902.0,227.0 920.0,227.0 899.0,254.0 907.0,284.0 896.0,284.0 879.0,250.0" fill="#dcb4b4" stroke="none" stroke-width="0" fill-opacity="0.85"/>
<polyline points="919.0,227.0 898.0,254.0 906.0,283.0" fill="none" stroke="#a0aaa6" stroke-width="3.2" stroke-linejoin="round" stroke-linecap="round"/>
<polyline points="903.0,228.0 880.0,250.0 893.0,280.0 900.0,284.0" fill="none" stroke="#3a3e3a" stroke-width="3.6" stroke-linejoin="round" stroke-linecap="round"/>
<polyline points="909.0,228.0 887.0,252.0 901.0,283.0" fill="none" stroke="#c8202e" stroke-width="3.2" stroke-linejoin="round" stroke-linecap="round"/>
<polyline points="913.0,228.0 892.0,253.0 903.0,283.0" fill="none" stroke="#e88a94" stroke-width="2.6" stroke-linejoin="round" stroke-linecap="round"/>
<line x1="869.0" y1="286.0" x2="928.0" y2="286.0" stroke="#5a1c24" stroke-width="2.6"/>
<polyline points="608.9,249.0 608.9,190.3 600.0,190.3" fill="none" stroke="#9a9a9a" stroke-width="2.2" stroke-linejoin="round" stroke-linecap="round" stroke-dasharray="2 2" stroke-linecap="butt"/>
<polygon points="591.3,190.3 601.3,185.3 601.3,195.3" fill="#111" stroke="none" stroke-width="0"/>
<polyline points="704.0,241.0 704.0,95.0" fill="none" stroke="#9a9a9a" stroke-width="2.2" stroke-linejoin="round" stroke-linecap="round" stroke-dasharray="2 2" stroke-linecap="butt"/>
<polygon points="704.0,84.7 708.5,94.7 699.5,94.7" fill="#111" stroke="none" stroke-width="0"/>
<polyline points="807.7,238.0 807.7,197.7 823.0,186.0" fill="none" stroke="#9a9a9a" stroke-width="2.2" stroke-linejoin="round" stroke-linecap="round" stroke-dasharray="2 2" stroke-linecap="butt"/>
<polygon points="831.0,179.6 826.2,189.7 820.0,181.8" fill="#111" stroke="none" stroke-width="0"/>
<line x1="855.4" y1="229.0" x2="877.0" y2="229.0" stroke="#b0b0b0" stroke-width="1.6"/>
<polyline points="855.4,229.0 855.4,284.0" fill="none" stroke="#b4b4b4" stroke-width="2.2" stroke-linejoin="round" stroke-linecap="round" stroke-dasharray="2 2" stroke-linecap="butt"/>
<polygon points="855.4,292.5 850.4,284.0 860.4,284.0" fill="#111" stroke="none" stroke-width="0"/>
<text x="49" y="427" font-size="23" font-weight="bold" text-anchor="start" fill="#111" stroke="#111" stroke-width="0.35" textLength="28.8" lengthAdjust="spacingAndGlyphs">(b)</text>
<defs><linearGradient id="solegrad" x1="0" y1="0" x2="1" y2="0.3"><stop offset="0" stop-color="#5a58c2"/><stop offset="0.45" stop-color="#5e58bf"/><stop offset="0.62" stop-color="#6656c0"/><stop offset="1" stop-color="#5c58c2"/></linearGradient><linearGradient id="sidegrad" x1="0" y1="0" x2="1" y2="0"><stop offset="0" stop-color="#a850ec"/><stop offset="0.4" stop-color="#9450e6"/><stop offset="0.7" stop-color="#8a4ee0"/><stop offset="1" stop-color="#6a54d6"/></linearGradient></defs>
<path d="M63.0,674.0 C62.5,670.2 63.3,663.5 64.0,658.0 C64.7,652.5 65.7,646.2 67.0,641.0 C68.3,635.8 69.7,632.0 72.0,627.0 C74.3,622.0 77.8,616.0 81.0,611.0 C84.2,606.0 87.7,601.3 91.0,597.0 C94.3,592.7 97.3,589.0 101.0,585.0 C104.7,581.0 108.0,577.3 113.0,573.0 C118.0,568.7 124.7,563.3 131.0,559.0 C137.3,554.7 144.3,550.5 151.0,547.0 C157.7,543.5 164.3,540.5 171.0,538.0 C177.7,535.5 184.3,534.3 191.0,532.0 C197.7,529.7 204.3,527.0 211.0,524.0 C217.7,521.0 224.3,517.3 231.0,514.0 C237.7,510.7 245.0,507.3 251.0,504.0 C257.0,500.7 260.2,497.7 267.0,494.0 C273.8,490.3 283.3,484.9 292.0,482.0 C300.7,479.1 310.0,477.1 319.0,476.5 C328.0,475.9 338.5,476.4 346.0,478.5 C353.5,480.6 358.8,484.4 364.0,489.0 C369.2,493.6 374.3,500.5 377.0,506.0 C379.7,511.5 380.7,516.7 380.0,522.0 C379.3,527.3 378.7,531.7 373.0,538.0 C367.3,544.3 356.5,553.7 346.0,560.0 C335.5,566.3 320.2,571.0 310.0,576.0 C299.8,581.0 292.5,583.5 285.0,590.0 C277.5,596.5 273.7,604.8 265.0,615.0 C256.3,625.2 245.7,641.2 233.0,651.0 C220.3,660.8 207.7,668.3 189.0,674.0 C170.3,679.7 138.3,683.0 121.0,685.0 C103.7,687.0 94.0,686.7 85.0,686.0 C76.0,685.3 70.7,683.0 67.0,681.0 C63.3,679.0 63.5,677.8 63.0,674.0 Z" fill="url(#sidegrad)" stroke="#3a2a80" stroke-width="1.2"/>
<path d="M62.0,656.0 C61.5,652.2 62.3,645.5 63.0,640.0 C63.7,634.5 64.7,628.2 66.0,623.0 C67.3,617.8 68.7,614.0 71.0,609.0 C73.3,604.0 76.8,598.0 80.0,593.0 C83.2,588.0 86.7,583.3 90.0,579.0 C93.3,574.7 96.3,571.0 100.0,567.0 C103.7,563.0 107.0,559.3 112.0,555.0 C117.0,550.7 123.7,545.3 130.0,541.0 C136.3,536.7 143.3,532.5 150.0,529.0 C156.7,525.5 163.3,522.5 170.0,520.0 C176.7,517.5 183.3,516.3 190.0,514.0 C196.7,511.7 203.3,509.0 210.0,506.0 C216.7,503.0 223.3,499.3 230.0,496.0 C236.7,492.7 244.0,489.3 250.0,486.0 C256.0,482.7 259.2,479.7 266.0,476.0 C272.8,472.3 282.3,466.9 291.0,464.0 C299.7,461.1 309.0,459.1 318.0,458.5 C327.0,457.9 337.5,458.4 345.0,460.5 C352.5,462.6 357.8,466.4 363.0,471.0 C368.2,475.6 373.3,482.5 376.0,488.0 C378.7,493.5 379.7,498.7 379.0,504.0 C378.3,509.3 377.7,513.7 372.0,520.0 C366.3,526.3 355.5,535.7 345.0,542.0 C334.5,548.3 319.2,553.0 309.0,558.0 C298.8,563.0 291.5,565.5 284.0,572.0 C276.5,578.5 272.7,586.8 264.0,597.0 C255.3,607.2 244.7,623.2 232.0,633.0 C219.3,642.8 206.7,650.3 188.0,656.0 C169.3,661.7 137.3,665.0 120.0,667.0 C102.7,669.0 93.0,668.7 84.0,668.0 C75.0,667.3 69.7,665.0 66.0,663.0 C62.3,661.0 62.5,659.8 62.0,656.0 Z" fill="url(#solegrad)" stroke="#2e2870" stroke-width="1.4"/>
<polygon points="130.0,638.0 147.0,625.5 166.0,640.0 148.0,653.0" fill="#141630" stroke="none" stroke-width="0"/>
<polygon points="238.0,560.0 257.0,547.0 274.0,558.0 255.0,572.0" fill="#141630" stroke="none" stroke-width="0"/>
<polygon points="333.0,477.0 351.0,466.0 369.0,476.0 351.0,489.0" fill="#141630" stroke="none" stroke-width="0"/>
<line x1="85.0" y1="668.0" x2="85.0" y2="686.0" stroke="#b070f0" stroke-width="1.2"/>
<line x1="200.0" y1="651.0" x2="200.0" y2="669.0" stroke="#b070f0" stroke-width="1.2"/>
<line x1="290.0" y1="568.0" x2="290.0" y2="586.0" stroke="#b070f0" stroke-width="1.2"/>
<line x1="322.0" y1="552.0" x2="322.0" y2="570.0" stroke="#b070f0" stroke-width="1.2"/>
<line x1="362.0" y1="530.0" x2="362.0" y2="548.0" stroke="#b070f0" stroke-width="1.2"/>
<polygon points="329.0,563.0 338.5,566.5 330.0,570.0" fill="#8a1a10" stroke="none" stroke-width="0"/>
<polyline points="220.0,652.6 327.0,652.6" fill="none" stroke="#333" stroke-width="1.4" stroke-linejoin="round" stroke-linecap="round" stroke-dasharray="3 1.5" stroke-linecap="butt"/>
<polygon points="338.0,652.6 328.0,657.1 328.0,648.1" fill="#111" stroke="none" stroke-width="0"/>
<text x="347.2" y="574.4" font-size="17.5" font-weight="bold" text-anchor="start" fill="#111" stroke="#111" stroke-width="0.35" textLength="103" lengthAdjust="spacingAndGlyphs">Sensors at</text>
<text x="347.2" y="599.2" font-size="17.5" font-weight="bold" text-anchor="start" fill="#111" stroke="#111" stroke-width="0.35" textLength="102.4" lengthAdjust="spacingAndGlyphs">3 pressure</text>
<text x="347.2" y="622.4" font-size="17.5" font-weight="bold" text-anchor="start" fill="#111" stroke="#111" stroke-width="0.35" textLength="58.4" lengthAdjust="spacingAndGlyphs">points</text>
<text x="344.8" y="662.4" font-size="17.5" font-weight="bold" text-anchor="start" fill="#111" stroke="#111" stroke-width="0.35" textLength="89.6" lengthAdjust="spacingAndGlyphs">Soft shoe</text>
<text x="344.8" y="686.4" font-size="17.5" font-weight="bold" text-anchor="start" fill="#111" stroke="#111" stroke-width="0.35" textLength="39.2" lengthAdjust="spacingAndGlyphs">sole</text>
<defs><linearGradient id="skin1" x1="0" y1="0" x2="1" y2="0"><stop offset="0" stop-color="#8e5444"/><stop offset="0.5" stop-color="#b27664"/><stop offset="1" stop-color="#a86c5c"/></linearGradient><linearGradient id="skin2" x1="0" y1="0" x2="1" y2="0"><stop offset="0" stop-color="#8a5244"/><stop offset="0.45" stop-color="#b47a68"/><stop offset="1" stop-color="#d8b4a8"/></linearGradient><linearGradient id="skin3" x1="0" y1="0" x2="1" y2="0"><stop offset="0" stop-color="#8a4c3e"/><stop offset="0.6" stop-color="#b07462"/><stop offset="1" stop-color="#c89282"/></linearGradient><linearGradient id="bg1" x1="0" y1="0" x2="1" y2="0"><stop offset="0" stop-color="#d8c8c0"/><stop offset="1" stop-color="#f4ecea"/></linearGradient><linearGradient id="bg2" x1="0" y1="0" x2="1" y2="0"><stop offset="0" stop-color="#c8b0a8"/><stop offset="1" stop-color="#f6eeec"/></linearGradient><linearGradient id="bg3" x1="0" y1="0" x2="1" y2="0"><stop offset="0" stop-color="#f0e8e6"/><stop offset="1" stop-color="#dcd6d6"/></linearGradient></defs>
<g>
<rect x="547" y="407" width="89" height="36" fill="#f6ebe8"/>
<path d="M576,407 L612,408 L616,420 L582,418 Z" fill="#e9cdc5"/>
<path d="M551,411 L585,412 L600,416 L620,419 L633,415 L631,424 L622,431 L605,436 L580,439 L551,441 Z" fill="url(#skin1)"/>
<rect x="585" y="436" width="50" height="4" fill="#ece4e2"/>
<rect x="556" y="440" width="76" height="2.5" fill="#5a4644" fill-opacity="0.75"/>
<rect x="550" y="407" width="36" height="4.5" fill="#2a201e"/>
<rect x="547.5" y="408" width="2.5" height="38" fill="#3a3434"/>
</g>
<g>
<rect x="641.5" y="407" width="92.5" height="36" fill="#f5e8e5"/>
<path d="M649,411 L680,412 L700,424 L720,432 L734,433 L734,442 L649,442 Z" fill="url(#skin2)"/>
<path d="M660,437 L733,437 L733,442 L660,442 Z" fill="#3e1c1a" fill-opacity="0.85"/>
<rect x="643" y="407" width="37" height="4.5" fill="#201818"/>
<rect x="642.5" y="412" width="6" height="30" fill="#cfc4bc"/>
</g>
<g>
<rect x="745" y="406.6" width="72" height="42.89999999999998" fill="#e4dcdc"/>
<rect x="790" y="410" width="24" height="26" fill="#efe9e9"/>
<path d="M748,411 L790,407 L795,410 L792,425 L796,443 L785,444 L770,432 L755,422 L748,416 Z" fill="url(#skin3)"/>
<path d="M787,407 L795,407 L795,412 L788,412 Z" fill="#2a2a2a"/>
<rect x="745" y="438" width="72" height="2.5" fill="#8a8280"/>
<rect x="745" y="441" width="72" height="3" fill="#f2eeee"/>
<rect x="745" y="445" width="72" height="4.5" fill="#6a6260"/>
</g>
<text x="472.8" y="429.9" font-size="23" font-weight="bold" text-anchor="start" fill="#111" stroke="#111" stroke-width="0.35" textLength="25.8" lengthAdjust="spacingAndGlyphs">(c)</text>
<line x1="548.8" y1="446.0" x2="548.8" y2="745.0" stroke="#222" stroke-width="1.6"/>
<line x1="548.8" y1="738.5" x2="955.0" y2="738.5" stroke="#333" stroke-width="1.6"/>
<line x1="542.0" y1="724.1" x2="548.8" y2="724.1" stroke="#333" stroke-width="1.3"/>
<text x="537.8" y="730.4" font-size="18" font-weight="bold" text-anchor="end" fill="#111" stroke="#111" stroke-width="0.35" textLength="26.4" lengthAdjust="spacingAndGlyphs">0.0</text>
<line x1="542.0" y1="654.6" x2="548.8" y2="654.6" stroke="#333" stroke-width="1.3"/>
<text x="537.8" y="660.9" font-size="18" font-weight="bold" text-anchor="end" fill="#111" stroke="#111" stroke-width="0.35" textLength="26.4" lengthAdjust="spacingAndGlyphs">0.5</text>
<line x1="542.0" y1="585.1" x2="548.8" y2="585.1" stroke="#333" stroke-width="1.3"/>
<text x="537.8" y="591.4" font-size="18" font-weight="bold" text-anchor="end" fill="#111" stroke="#111" stroke-width="0.35" textLength="26.4" lengthAdjust="spacingAndGlyphs">1.0</text>
<line x1="542.0" y1="515.6" x2="548.8" y2="515.6" stroke="#333" stroke-width="1.3"/>
<text x="537.8" y="521.9" font-size="18" font-weight="bold" text-anchor="end" fill="#111" stroke="#111" stroke-width="0.35" textLength="26.4" lengthAdjust="spacingAndGlyphs">1.5</text>
<line x1="542.0" y1="446.1" x2="548.8" y2="446.1" stroke="#333" stroke-width="1.3"/>
<text x="537.8" y="452.40000000000003" font-size="18" font-weight="bold" text-anchor="end" fill="#111" stroke="#111" stroke-width="0.35" textLength="26.4" lengthAdjust="spacingAndGlyphs">2.0</text>
<line x1="548.8" y1="738.5" x2="548.8" y2="745.0" stroke="#333" stroke-width="1.3"/>
<text x="548.8" y="764" font-size="17.5" font-weight="bold" text-anchor="middle" fill="#111" stroke="#111" stroke-width="0.35" textLength="9.6" lengthAdjust="spacingAndGlyphs">0</text>
<line x1="579.6" y1="738.5" x2="579.6" y2="742.0" stroke="#333" stroke-width="1.3"/>
<line x1="610.4" y1="738.5" x2="610.4" y2="745.0" stroke="#333" stroke-width="1.3"/>
<text x="610.4" y="764" font-size="17.5" font-weight="bold" text-anchor="middle" fill="#111" stroke="#111" stroke-width="0.35" textLength="9.6" lengthAdjust="spacingAndGlyphs">2</text>
<line x1="641.2" y1="738.5" x2="641.2" y2="742.0" stroke="#333" stroke-width="1.3"/>
<line x1="672.0" y1="738.5" x2="672.0" y2="745.0" stroke="#333" stroke-width="1.3"/>
<text x="672.0" y="764" font-size="17.5" font-weight="bold" text-anchor="middle" fill="#111" stroke="#111" stroke-width="0.35" textLength="9.6" lengthAdjust="spacingAndGlyphs">4</text>
<line x1="702.8" y1="738.5" x2="702.8" y2="742.0" stroke="#333" stroke-width="1.3"/>
<line x1="733.6" y1="738.5" x2="733.6" y2="745.0" stroke="#333" stroke-width="1.3"/>
<text x="733.5999999999999" y="764" font-size="17.5" font-weight="bold" text-anchor="middle" fill="#111" stroke="#111" stroke-width="0.35" textLength="9.6" lengthAdjust="spacingAndGlyphs">6</text>
<line x1="764.4" y1="738.5" x2="764.4" y2="742.0" stroke="#333" stroke-width="1.3"/>
<line x1="795.2" y1="738.5" x2="795.2" y2="745.0" stroke="#333" stroke-width="1.3"/>
<text x="795.1999999999999" y="764" font-size="17.5" font-weight="bold" text-anchor="middle" fill="#111" stroke="#111" stroke-width="0.35" textLength="9.6" lengthAdjust="spacingAndGlyphs">8</text>
<line x1="826.0" y1="738.5" x2="826.0" y2="742.0" stroke="#333" stroke-width="1.3"/>
<line x1="856.8" y1="738.5" x2="856.8" y2="745.0" stroke="#333" stroke-width="1.3"/>
<text x="856.8" y="764" font-size="17.5" font-weight="bold" text-anchor="middle" fill="#111" stroke="#111" stroke-width="0.35" textLength="20" lengthAdjust="spacingAndGlyphs">10</text>
<line x1="887.6" y1="738.5" x2="887.6" y2="742.0" stroke="#333" stroke-width="1.3"/>
<line x1="918.4" y1="738.5" x2="918.4" y2="745.0" stroke="#333" stroke-width="1.3"/>
<text x="918.4" y="764" font-size="17.5" font-weight="bold" text-anchor="middle" fill="#111" stroke="#111" stroke-width="0.35" textLength="20" lengthAdjust="spacingAndGlyphs">12</text>
<line x1="949.2" y1="738.5" x2="949.2" y2="742.0" stroke="#333" stroke-width="1.3"/>
<text x="755.9" y="783.6" font-size="17.5" font-weight="bold" text-anchor="middle" fill="#111" stroke="#111" stroke-width="0.35" textLength="69" lengthAdjust="spacingAndGlyphs">Time (s)</text>
<text x="502" y="566.5" font-size="17.5" font-weight="bold" text-anchor="middle" fill="#111" stroke="#111" stroke-width="0.35" textLength="153.7" lengthAdjust="spacingAndGlyphs" transform="rotate(-90 502 566.5)">Sensor output (V)</text>
<polyline points="548.8,685.6 557.6,682.3 566.4,679.0 569.7,681.2 570.8,696.6 572.5,660.0 574.0,600.0 576.0,560.0 579.0,535.0 584.0,519.2 590.0,511.0 598.3,508.2 607.0,509.5 615.9,514.8 622.0,521.0 626.9,532.4 630.5,548.0 632.4,563.2 634.0,590.0 634.6,640.0 636.0,700.0 637.9,707.6 643.4,706.5 648.0,700.0 654.4,693.0 664.3,687.8 665.4,660.0 666.5,600.0 668.5,560.0 672.0,517.0 676.0,509.0 683.0,505.0 694.0,508.2 702.8,517.0 709.4,520.3 713.8,532.4 715.0,560.0 716.0,600.0 717.5,690.0 719.3,699.9 728.0,696.5 738.0,693.3 748.0,690.0 757.0,688.0 758.7,686.0 759.5,650.0 760.9,600.0 762.0,560.0 764.2,519.2 770.8,508.2 778.0,506.0 786.2,505.0 792.8,515.9 798.3,523.6 806.0,543.4 810.4,558.8 812.6,590.0 813.7,640.0 815.0,695.0 818.1,699.9 827.0,695.5 836.8,691.1 846.0,687.0 856.6,683.4 858.8,660.0 861.0,600.0 862.5,550.0 864.3,519.2 872.0,507.1 885.2,505.0 894.0,510.4 907.2,515.9 913.8,525.8 918.2,550.0 920.4,600.0 921.5,690.0 923.7,703.2 933.6,696.6 936.9,703.2 942.4,690.0 954.5,683.4" fill="none" stroke="#383838" stroke-width="2.0" stroke-linejoin="round" stroke-linecap="round"/>
<polyline points="548.8,708.0 552.1,716.4 555.4,719.7 558.7,707.6 564.2,703.2 568.6,698.8 569.7,720.8 571.9,726.3 576.3,723.0 584.0,721.0 592.8,718.6 598.3,718.6 599.4,725.2 600.5,709.8 602.0,660.0 603.8,600.0 607.0,560.0 611.0,535.0 615.9,514.8 620.0,500.0 623.6,490.6 629.0,480.0 635.7,473.0 639.0,475.0 641.2,484.0 642.0,520.0 642.3,600.0 642.3,712.0 645.6,696.6 654.4,692.2 664.3,687.8 665.4,707.6 672.0,720.8 676.4,730.7 683.0,724.1 689.6,729.6 692.9,735.1 694.0,700.0 695.0,650.0 696.2,600.0 698.0,550.0 700.6,506.0 705.0,495.0 713.8,484.0 718.2,468.6 724.8,463.1 729.0,465.0 733.6,473.0 735.5,520.0 737.0,600.0 737.8,690.0 739.1,698.8 742.0,692.0 746.0,690.0 750.0,688.0 754.0,686.0 758.7,685.6 761.0,698.8 768.6,723.0 778.0,723.5 786.2,724.1 789.5,730.7 790.5,690.0 791.7,600.0 793.9,517.0 798.3,488.4 806.0,480.7 814.8,466.4 821.4,461.3 826.0,464.0 830.2,473.0 834.6,506.0 836.8,600.0 837.5,690.0 839.0,703.2 841.2,683.4 856.6,679.0 857.7,694.4 867.6,712.0 872.0,720.8 889.6,721.9 891.8,727.4 892.5,680.0 893.0,620.0 896.2,532.4 900.6,510.4 907.2,484.0 916.0,464.2 923.7,460.9 930.3,470.8 932.5,495.0 934.0,560.0 934.7,640.0 935.8,681.2 938.0,674.6 946.0,676.0 954.5,675.7" fill="none" stroke="#a8303e" stroke-width="2.0" stroke-linejoin="round" stroke-linecap="round"/>
<polyline points="738.0,693.0 742.0,690.0 746.0,689.0 750.0,687.0 754.0,686.0 758.0,685.0" fill="none" stroke="#c02030" stroke-width="3.2" stroke-linejoin="round" stroke-linecap="round" stroke-opacity="0.8"/>
<polyline points="841.0,683.0 846.0,682.0 851.0,681.0 856.0,679.0" fill="none" stroke="#c02030" stroke-width="3.2" stroke-linejoin="round" stroke-linecap="round" stroke-opacity="0.8"/>
<polyline points="936.0,676.0 941.0,674.0 946.0,676.0 950.0,675.0 954.5,676.0" fill="none" stroke="#c02030" stroke-width="3.2" stroke-linejoin="round" stroke-linecap="round" stroke-opacity="0.8"/>
<line x1="828.0" y1="420.8" x2="872.0" y2="420.8" stroke="#333" stroke-width="1.8"/>
<text x="877.6" y="428" font-size="17" font-weight="bold" text-anchor="start" fill="#111" stroke="#111" stroke-width="0.35" textLength="37.6" lengthAdjust="spacingAndGlyphs">Heel</text>
<line x1="828.0" y1="444.0" x2="872.0" y2="444.0" stroke="#4a2228" stroke-width="1.8"/>
<text x="877.6" y="451.2" font-size="17" font-weight="bold" text-anchor="start" fill="#111" stroke="#111" stroke-width="0.35" textLength="70.4" lengthAdjust="spacingAndGlyphs">Toe Ball</text>
<polyline points="561.3,446.0 561.3,514.8 570.0,516.0" fill="none" stroke="#333" stroke-width="2.6" stroke-linejoin="round" stroke-linecap="round" stroke-dasharray="2.5 2.5" stroke-linecap="butt"/>
<polygon points="584.0,519.2 568.5,522.1 569.8,512.2" fill="#111" stroke="none" stroke-width="0"/>
<polyline points="688.5,446.0 688.5,479.6 696.0,496.0" fill="none" stroke="#8a8a8a" stroke-width="2.2" stroke-linejoin="round" stroke-linecap="round" stroke-dasharray="2 2" stroke-linecap="butt"/>
<polygon points="701.7,505.0 692.6,498.5 701.4,493.8" fill="#111" stroke="none" stroke-width="0"/>
<polyline points="774.1,449.0 774.1,482.9 812.0,482.5" fill="none" stroke="#333" stroke-width="2.4" stroke-linejoin="round" stroke-linecap="round" stroke-dasharray="2.5 2.5" stroke-linecap="butt"/>
<polygon points="826.9,481.8 812.1,487.3 811.7,477.3" fill="#111" stroke="none" stroke-width="0"/>
<text x="52.8" y="798" font-size="22.5" font-weight="bold" text-anchor="start" fill="#111" stroke="#111" stroke-width="0.35" textLength="28.2" lengthAdjust="spacingAndGlyphs">(d)</text>
<line x1="117.3" y1="801.6" x2="117.3" y2="1096.0" stroke="#8a8a8a" stroke-width="2.2"/>
<line x1="116.0" y1="1093.5" x2="480.0" y2="1093.5" stroke="#444" stroke-width="1.8"/>
<line x1="112.0" y1="1093.0" x2="117.0" y2="1093.0" stroke="#333" stroke-width="1.4"/>
<text x="108.5" y="1098.5" font-size="16" font-weight="bold" text-anchor="end" fill="#111" stroke="#111" stroke-width="0.35" textLength="23.5" lengthAdjust="spacingAndGlyphs">0.0</text>
<line x1="112.0" y1="1028.2" x2="117.0" y2="1028.2" stroke="#333" stroke-width="1.4"/>
<text x="108.5" y="1033.7" font-size="16" font-weight="bold" text-anchor="end" fill="#111" stroke="#111" stroke-width="0.35" textLength="23.5" lengthAdjust="spacingAndGlyphs">0.5</text>
<line x1="112.0" y1="963.4" x2="117.0" y2="963.4" stroke="#333" stroke-width="1.4"/>
<text x="108.5" y="968.9" font-size="16" font-weight="bold" text-anchor="end" fill="#111" stroke="#111" stroke-width="0.35" textLength="23.5" lengthAdjust="spacingAndGlyphs">1.0</text>
<line x1="112.0" y1="898.6" x2="117.0" y2="898.6" stroke="#333" stroke-width="1.4"/>
<text x="108.5" y="904.1" font-size="16" font-weight="bold" text-anchor="end" fill="#111" stroke="#111" stroke-width="0.35" textLength="23.5" lengthAdjust="spacingAndGlyphs">1.5</text>
<line x1="112.0" y1="833.8" x2="117.0" y2="833.8" stroke="#333" stroke-width="1.4"/>
<text x="108.5" y="839.3" font-size="16" font-weight="bold" text-anchor="end" fill="#111" stroke="#111" stroke-width="0.35" textLength="23.5" lengthAdjust="spacingAndGlyphs">2.0</text>
<line x1="114.0" y1="1060.6" x2="117.0" y2="1060.6" stroke="#555" stroke-width="1.2"/>
<line x1="114.0" y1="995.8" x2="117.0" y2="995.8" stroke="#555" stroke-width="1.2"/>
<line x1="114.0" y1="931.0" x2="117.0" y2="931.0" stroke="#555" stroke-width="1.2"/>
<line x1="114.0" y1="866.2" x2="117.0" y2="866.2" stroke="#555" stroke-width="1.2"/>
<line x1="117.2" y1="1093.5" x2="117.2" y2="1098.0" stroke="#444" stroke-width="1.3"/>
<text x="113.7" y="1119" font-size="16" font-weight="bold" text-anchor="middle" fill="#111" stroke="#111" stroke-width="0.35" textLength="8.5" lengthAdjust="spacingAndGlyphs">0</text>
<line x1="182.0" y1="1093.5" x2="182.0" y2="1098.0" stroke="#444" stroke-width="1.3"/>
<text x="178.5" y="1119" font-size="16" font-weight="bold" text-anchor="middle" fill="#111" stroke="#111" stroke-width="0.35" textLength="8.5" lengthAdjust="spacingAndGlyphs">1</text>
<line x1="246.8" y1="1093.5" x2="246.8" y2="1098.0" stroke="#444" stroke-width="1.3"/>
<text x="243.3" y="1119" font-size="16" font-weight="bold" text-anchor="middle" fill="#111" stroke="#111" stroke-width="0.35" textLength="8.5" lengthAdjust="spacingAndGlyphs">2</text>
<line x1="311.6" y1="1093.5" x2="311.6" y2="1098.0" stroke="#444" stroke-width="1.3"/>
<text x="308.09999999999997" y="1119" font-size="16" font-weight="bold" text-anchor="middle" fill="#111" stroke="#111" stroke-width="0.35" textLength="8.5" lengthAdjust="spacingAndGlyphs">3</text>
<line x1="376.4" y1="1093.5" x2="376.4" y2="1098.0" stroke="#444" stroke-width="1.3"/>
<text x="372.9" y="1119" font-size="16" font-weight="bold" text-anchor="middle" fill="#111" stroke="#111" stroke-width="0.35" textLength="8.5" lengthAdjust="spacingAndGlyphs">4</text>
<line x1="441.2" y1="1093.5" x2="441.2" y2="1098.0" stroke="#444" stroke-width="1.3"/>
<text x="437.7" y="1119" font-size="16" font-weight="bold" text-anchor="middle" fill="#111" stroke="#111" stroke-width="0.35" textLength="8.5" lengthAdjust="spacingAndGlyphs">5</text>
<text x="318" y="1139" font-size="17" font-weight="bold" text-anchor="middle" fill="#111" stroke="#111" stroke-width="0.35" textLength="65" lengthAdjust="spacingAndGlyphs">Time (s)</text>
<text x="75.5" y="939.8" font-size="16.5" font-weight="bold" text-anchor="middle" fill="#111" stroke="#111" stroke-width="0.35" textLength="148.5" lengthAdjust="spacingAndGlyphs" transform="rotate(-90 75.5 939.8)">Sensor output (v)</text>
<line x1="192.4" y1="808.6" x2="231.1" y2="808.6" stroke="#222" stroke-width="1.8"/>
<text x="235.8" y="814.2" font-size="15.5" font-weight="bold" text-anchor="start" fill="#111" stroke="#111" stroke-width="0.35" textLength="34" lengthAdjust="spacingAndGlyphs">Heel</text>
<line x1="274.5" y1="808.6" x2="313.3" y2="808.6" stroke="#a05a5a" stroke-width="1.8"/>
<text x="317.9" y="814.2" font-size="15.5" font-weight="bold" text-anchor="start" fill="#111" stroke="#111" stroke-width="0.35" textLength="49.6" lengthAdjust="spacingAndGlyphs">Middle</text>
<line x1="373.7" y1="808.6" x2="412.5" y2="808.6" stroke="#3c3c64" stroke-width="1.8"/>
<text x="417.1" y="814.2" font-size="15.5" font-weight="bold" text-anchor="start" fill="#111" stroke="#111" stroke-width="0.35" textLength="62" lengthAdjust="spacingAndGlyphs">Toe ball</text>
<polyline points="117.5,1036.0 127.0,1032.1 136.6,1032.1 139.0,1036.0 141.4,1032.1 143.0,925.8 145.0,916.7 146.0,920.1 148.0,915.6 151.0,912.9 154.0,912.9 156.5,918.3 158.0,948.9 159.5,1015.2 161.5,1054.1 163.5,1069.7 169.2,1068.4 173.7,1060.6 180.4,1058.0 186.1,1052.8 186.1,1052.8 187.1,995.8 188.5,931.0 190.1,913.8 192.1,909.2 195.1,906.4 198.1,906.4 200.6,912.0 202.1,943.7 203.6,1015.2 205.6,1054.1 207.6,1069.7 213.6,1068.4 218.4,1060.6 225.5,1058.0 231.5,1052.8 231.5,1052.8 232.5,995.8 233.9,931.0 235.5,915.1 237.5,910.5 240.5,907.7 243.5,907.7 246.0,913.2 247.5,944.7 249.0,1015.2 251.0,1054.1 253.0,1069.7 259.8,1068.4 265.1,1060.6 273.2,1058.0 280.0,1052.8 280.0,1052.8 281.0,995.8 282.4,931.0 284.0,913.8 286.0,909.2 289.0,906.4 292.0,906.4 294.5,912.0 296.0,943.7 297.5,1015.2 299.5,1054.1 301.5,1069.7 307.1,1068.4 311.6,1060.6 318.4,1058.0 324.0,1052.8 324.0,1052.8 325.0,995.8 326.4,931.0 328.0,913.8 330.0,909.2 333.0,906.4 336.0,906.4 338.5,912.0 340.0,943.7 341.5,1015.2 343.5,1054.1 345.5,1069.7 351.1,1068.4 355.6,1060.6 362.4,1058.0 368.0,1052.8 368.0,1052.8 369.0,995.8 370.4,931.0 372.0,915.1 374.0,910.5 377.0,907.7 380.0,907.7 382.5,913.2 384.0,944.7 385.5,1015.2 387.5,1054.1 389.5,1069.7 395.1,1068.4 399.6,1060.6 406.4,1058.0 412.0,1052.8 412.0,1052.8 413.0,995.8 414.4,931.0 416.0,911.4 418.0,906.6 421.0,903.8 424.0,903.8 426.5,909.5 428.0,941.6 429.5,1015.2 431.5,1054.1 433.5,1069.7 438.8,1068.4 442.9,1060.6 449.2,1058.0 454.5,1052.8 454.5,1052.8 455.5,995.8 456.9,931.0 458.5,910.1 460.5,905.3 463.5,902.5 466.5,902.5 469.0,908.2 470.5,940.6 472.0,1015.2 474.0,1054.1 476.0,1069.7 476.8,1068.4 477.4,1060.6 478.2,1058.0" fill="none" stroke="#a8485a" stroke-width="2.1" stroke-linejoin="round" stroke-linecap="round"/>
<polyline points="117.5,1002.3 124.6,1001.0 129.4,999.7 133.0,1006.2 136.6,1010.1 139.0,1034.7 140.2,1081.3 141.4,1032.1 143.0,963.4 144.5,898.6 146.2,850.5 148.0,837.7 150.0,841.5 152.0,845.3 153.8,853.0 155.2,901.5 156.8,978.1 158.5,1043.8 160.0,1050.2 163.9,1052.8 167.8,1046.3 172.5,1041.2 176.2,1043.8 180.9,1036.0 186.1,1031.4 186.1,1031.4 187.1,989.3 188.6,898.6 190.3,848.0 192.1,835.1 194.1,839.0 196.1,842.8 197.9,850.6 199.3,899.6 200.9,976.9 202.6,1043.8 204.1,1050.2 208.2,1052.8 212.3,1046.3 217.3,1041.2 221.1,1043.8 226.0,1036.0 231.5,1031.4 231.5,1031.4 232.5,989.3 234.0,898.6 235.7,844.3 237.5,831.2 239.5,835.1 241.5,839.1 243.3,846.9 244.7,896.7 246.3,975.2 248.0,1043.8 249.5,1050.2 254.1,1052.8 258.6,1046.3 264.1,1041.2 268.4,1043.8 273.9,1036.0 280.0,1031.4 280.0,1031.4 281.0,989.3 282.5,898.6 284.2,840.6 286.0,827.3 288.0,831.3 290.0,835.3 291.8,843.3 293.2,893.7 294.8,973.4 296.5,1043.8 298.0,1050.2 301.9,1052.8 305.8,1046.3 310.5,1041.2 314.1,1043.8 318.8,1036.0 324.0,1031.4 324.0,1031.4 325.0,989.3 326.5,898.6 328.2,841.8 330.0,828.6 332.0,832.6 334.0,836.5 335.8,844.5 337.2,894.7 338.8,974.0 340.5,1043.8 342.0,1050.2 345.9,1052.8 349.8,1046.3 354.5,1041.2 358.1,1043.8 362.8,1036.0 368.0,1031.4 368.0,1031.4 369.0,989.3 370.5,898.6 372.5,839.0 374.0,831.2 375.5,872.7 377.0,883.0 378.5,846.8 380.0,846.8 381.8,898.6 382.8,975.2 384.5,1043.8 386.0,1050.2 389.9,1052.8 393.8,1046.3 398.5,1041.2 402.1,1043.8 406.8,1036.0 412.0,1031.4 412.0,1031.4 413.0,989.3 414.5,898.6 416.2,840.6 418.0,827.3 420.0,831.3 422.0,835.3 423.8,843.3 425.2,893.7 426.8,973.4 428.5,1043.8 430.0,1050.2 433.7,1052.8 437.4,1046.3 441.8,1041.2 445.2,1043.8 449.6,1036.0 454.5,1031.4 454.5,1031.4 455.5,989.3 457.0,898.6 458.7,839.4 460.5,826.0 462.5,830.0 464.5,834.0 466.3,842.0 467.7,892.8 469.3,972.9 471.0,1043.8 472.5,1050.2 473.5,1052.8 474.4,1046.3 475.6,1041.2 476.5,1043.8 477.7,1036.0" fill="none" stroke="#34348e" stroke-width="2.1" stroke-linejoin="round" stroke-linecap="round"/>
<polyline points="117.5,985.4 124.6,982.8 131.8,982.8 136.6,988.0 139.0,994.5 140.2,1036.0 141.4,999.7 145.0,993.2 148.0,999.7 150.5,973.8 152.0,997.6 154.0,1034.7 156.0,1064.5 157.2,1077.4 159.0,1054.1 162.4,1041.2 167.4,1025.6 173.1,1011.4 176.4,1004.9 179.2,1003.6 182.0,1008.8 184.9,1019.1 187.1,1029.5 187.1,1029.5 188.1,1012.3 190.6,1001.6 192.6,996.2 194.6,985.4 196.1,1006.9 198.1,1034.7 200.1,1064.5 201.3,1077.4 203.1,1054.1 206.6,1041.2 211.9,1025.6 217.8,1011.4 221.3,1004.9 224.3,1003.6 227.2,1008.8 230.1,1019.1 232.5,1029.5 232.5,1029.5 233.5,989.0 236.0,975.1 238.0,968.2 240.0,954.3 241.5,982.1 243.5,1034.7 245.5,1064.5 246.7,1077.4 248.5,1054.1 252.4,1041.2 258.2,1025.6 264.8,1011.4 268.6,1004.9 271.9,1003.6 275.1,1008.8 278.4,1019.1 281.0,1029.5 281.0,1029.5 282.0,973.4 284.5,957.5 286.5,949.5 288.5,933.6 290.0,965.5 292.0,1034.7 294.0,1064.5 295.2,1077.4 297.0,1054.1 300.4,1041.2 305.4,1025.6 311.0,1011.4 314.4,1004.9 317.2,1003.6 320.0,1008.8 322.8,1019.1 325.0,1029.5 325.0,1029.5 326.0,980.2 328.5,965.2 330.5,957.7 332.5,942.7 334.0,972.7 336.0,1034.7 338.0,1064.5 339.2,1077.4 341.0,1054.1 344.4,1041.2 349.4,1025.6 355.0,1011.4 358.4,1004.9 361.2,1003.6 364.0,1008.8 366.6,1034.7 366.8,1019.1 367.3,1093.0 368.0,1034.7 369.0,1029.5 369.0,1029.5 370.0,977.3 372.5,961.9 374.5,954.2 376.5,938.8 378.0,969.6 380.0,1034.7 382.0,1064.5 383.2,1077.4 385.0,1054.1 388.4,1041.2 393.4,1025.6 399.0,1011.4 402.4,1004.9 405.2,1003.6 408.0,1008.8 410.8,1019.1 413.0,1029.5 413.0,1029.5 414.0,1006.5 416.5,995.0 418.5,989.2 420.5,977.7 422.0,1000.7 424.0,1034.7 426.0,1064.5 427.2,1077.4 429.0,1054.1 432.2,1041.2 436.9,1025.6 442.2,1011.4 445.4,1004.9 448.1,1003.6 450.7,1008.8 453.4,1019.1 455.5,1029.5 455.5,1029.5 456.5,998.7 459.0,986.1 461.0,979.9 463.0,967.3 464.5,992.4 466.5,1034.7 468.5,1064.5 469.7,1077.4 471.5,1054.1 472.4,1041.2 473.8,1025.6 475.2,1011.4 476.1,1004.9 476.9,1003.6 477.6,1008.8 478.4,1019.1" fill="none" stroke="#1e1e1e" stroke-width="2.1" stroke-linejoin="round" stroke-linecap="round"/>
<text x="496" y="798.1" font-size="23" font-weight="bold" text-anchor="start" fill="#111" stroke="#111" stroke-width="0.35" textLength="26.7" lengthAdjust="spacingAndGlyphs">(e)</text>
<line x1="587.5" y1="804.7" x2="587.5" y2="1096.0" stroke="#777" stroke-width="1.8"/>
<line x1="586.0" y1="1093.3" x2="946.0" y2="1093.3" stroke="#333" stroke-width="1.8"/>
<line x1="945.7" y1="1088.0" x2="945.7" y2="1098.0" stroke="#333" stroke-width="1.3"/>
<line x1="582.0" y1="1093.0" x2="587.5" y2="1093.0" stroke="#333" stroke-width="1.4"/>
<text x="578.4" y="1098.5" font-size="16" font-weight="bold" text-anchor="end" fill="#111" stroke="#111" stroke-width="0.35" textLength="32" lengthAdjust="spacingAndGlyphs">0.00</text>
<line x1="582.0" y1="1045.2" x2="587.5" y2="1045.2" stroke="#333" stroke-width="1.4"/>
<text x="578.4" y="1050.7" font-size="16" font-weight="bold" text-anchor="end" fill="#111" stroke="#111" stroke-width="0.35" textLength="32" lengthAdjust="spacingAndGlyphs">0.25</text>
<line x1="582.0" y1="997.4" x2="587.5" y2="997.4" stroke="#333" stroke-width="1.4"/>
<text x="578.4" y="1002.9" font-size="16" font-weight="bold" text-anchor="end" fill="#111" stroke="#111" stroke-width="0.35" textLength="32" lengthAdjust="spacingAndGlyphs">0.50</text>
<line x1="582.0" y1="949.6" x2="587.5" y2="949.6" stroke="#333" stroke-width="1.4"/>
<text x="578.4" y="955.1" font-size="16" font-weight="bold" text-anchor="end" fill="#111" stroke="#111" stroke-width="0.35" textLength="32" lengthAdjust="spacingAndGlyphs">0.75</text>
<line x1="582.0" y1="901.8" x2="587.5" y2="901.8" stroke="#333" stroke-width="1.4"/>
<text x="578.4" y="907.3" font-size="16" font-weight="bold" text-anchor="end" fill="#111" stroke="#111" stroke-width="0.35" textLength="32" lengthAdjust="spacingAndGlyphs">1.00</text>
<line x1="582.0" y1="854.0" x2="587.5" y2="854.0" stroke="#333" stroke-width="1.4"/>
<text x="578.4" y="859.5" font-size="16" font-weight="bold" text-anchor="end" fill="#111" stroke="#111" stroke-width="0.35" textLength="32" lengthAdjust="spacingAndGlyphs">1.25</text>
<line x1="582.0" y1="806.2" x2="587.5" y2="806.2" stroke="#333" stroke-width="1.4"/>
<text x="578.4" y="811.7" font-size="16" font-weight="bold" text-anchor="end" fill="#111" stroke="#111" stroke-width="0.35" textLength="32" lengthAdjust="spacingAndGlyphs">1.50</text>
<line x1="587.5" y1="1093.3" x2="587.5" y2="1098.0" stroke="#444" stroke-width="1.3"/>
<text x="587.5" y="1115.5" font-size="16" font-weight="bold" text-anchor="middle" fill="#111" stroke="#111" stroke-width="0.35" textLength="9" lengthAdjust="spacingAndGlyphs">0</text>
<line x1="623.3" y1="1093.3" x2="623.3" y2="1096.0" stroke="#444" stroke-width="1.3"/>
<line x1="659.1" y1="1093.3" x2="659.1" y2="1098.0" stroke="#444" stroke-width="1.3"/>
<text x="659.1" y="1115.5" font-size="16" font-weight="bold" text-anchor="middle" fill="#111" stroke="#111" stroke-width="0.35" textLength="9" lengthAdjust="spacingAndGlyphs">2</text>
<line x1="694.9" y1="1093.3" x2="694.9" y2="1096.0" stroke="#444" stroke-width="1.3"/>
<line x1="730.7" y1="1093.3" x2="730.7" y2="1098.0" stroke="#444" stroke-width="1.3"/>
<text x="730.7" y="1115.5" font-size="16" font-weight="bold" text-anchor="middle" fill="#111" stroke="#111" stroke-width="0.35" textLength="9" lengthAdjust="spacingAndGlyphs">4</text>
<line x1="766.5" y1="1093.3" x2="766.5" y2="1096.0" stroke="#444" stroke-width="1.3"/>
<line x1="802.3" y1="1093.3" x2="802.3" y2="1098.0" stroke="#444" stroke-width="1.3"/>
<text x="802.3" y="1115.5" font-size="16" font-weight="bold" text-anchor="middle" fill="#111" stroke="#111" stroke-width="0.35" textLength="9" lengthAdjust="spacingAndGlyphs">6</text>
<line x1="838.1" y1="1093.3" x2="838.1" y2="1096.0" stroke="#444" stroke-width="1.3"/>
<line x1="873.9" y1="1093.3" x2="873.9" y2="1098.0" stroke="#444" stroke-width="1.3"/>
<text x="873.9" y="1115.5" font-size="16" font-weight="bold" text-anchor="middle" fill="#111" stroke="#111" stroke-width="0.35" textLength="9" lengthAdjust="spacingAndGlyphs">8</text>
<line x1="909.7" y1="1093.3" x2="909.7" y2="1096.0" stroke="#444" stroke-width="1.3"/>
<line x1="945.5" y1="1093.3" x2="945.5" y2="1098.0" stroke="#444" stroke-width="1.3"/>
<text x="945.5" y="1115.5" font-size="16" font-weight="bold" text-anchor="middle" fill="#111" stroke="#111" stroke-width="0.35" textLength="18" lengthAdjust="spacingAndGlyphs">10</text>
<text x="784.5" y="1138" font-size="17" font-weight="bold" text-anchor="middle" fill="#111" stroke="#111" stroke-width="0.35" textLength="65" lengthAdjust="spacingAndGlyphs">Time (s)</text>
<text x="535.7" y="941.8" font-size="16.5" font-weight="bold" text-anchor="middle" fill="#111" stroke="#111" stroke-width="0.35" textLength="146.5" lengthAdjust="spacingAndGlyphs" transform="rotate(-90 535.7 941.8)">Sensor output (v)</text>
<line x1="653.3" y1="806.7" x2="691.5" y2="806.7" stroke="#222" stroke-width="1.8"/>
<text x="694.5" y="812.3" font-size="15.5" font-weight="bold" text-anchor="start" fill="#111" stroke="#111" stroke-width="0.35" textLength="34.5" lengthAdjust="spacingAndGlyphs">Heel</text>
<line x1="734.9" y1="806.7" x2="773.2" y2="806.7" stroke="#b05a64" stroke-width="1.8"/>
<text x="776.7" y="812.3" font-size="15.5" font-weight="bold" text-anchor="start" fill="#111" stroke="#111" stroke-width="0.35" textLength="51" lengthAdjust="spacingAndGlyphs">Middle</text>
<line x1="832.9" y1="806.7" x2="872.7" y2="806.7" stroke="#333a5a" stroke-width="1.8"/>
<text x="876.2" y="812.3" font-size="15.5" font-weight="bold" text-anchor="start" fill="#111" stroke="#111" stroke-width="0.35" textLength="60" lengthAdjust="spacingAndGlyphs">Toe ball</text>
<path d="M587.5,936.0 C589.1,935.2 593.8,932.3 597.0,931.0 C600.2,929.7 604.7,927.9 607.0,928.2 C609.3,928.5 609.5,931.3 611.0,933.0 C612.5,934.7 614.6,938.1 616.1,938.6 C617.6,939.1 618.5,936.9 620.0,936.0 C621.5,935.1 623.4,934.6 625.2,933.4 C627.0,932.2 629.0,930.3 631.0,929.0 C633.0,927.7 635.2,924.3 636.9,925.6 C638.6,926.9 639.5,933.1 641.0,937.0 C642.5,940.9 644.5,947.5 646.0,949.0 C647.5,950.5 648.3,947.7 650.0,946.0 C651.7,944.3 654.8,943.6 656.4,938.6 C658.0,933.6 658.1,923.0 659.6,916.2 C661.1,909.5 663.8,896.1 665.6,898.1 C667.4,900.1 668.6,915.2 670.4,928.2 C672.2,941.2 674.6,961.9 676.4,976.3 C678.2,990.7 679.3,1010.3 681.3,1014.7 C683.3,1019.1 686.3,1009.1 688.5,1002.7 C690.7,996.3 692.5,988.7 694.5,976.3 C696.5,963.9 698.9,939.4 700.5,928.2 C702.1,917.0 702.5,906.9 704.1,908.9 C705.7,910.9 708.3,927.0 710.1,940.2 C711.9,953.4 713.7,977.1 714.9,988.3 C716.1,999.5 715.7,1007.5 717.3,1007.5 C718.9,1007.5 722.3,999.5 724.5,988.3 C726.7,977.1 729.1,953.0 730.5,940.2 C731.9,927.4 731.7,911.3 732.9,911.3 C734.1,911.3 736.3,927.4 737.7,940.2 C739.1,953.0 740.3,977.1 741.3,988.3 C742.3,999.5 742.2,1007.5 743.8,1007.5 C745.4,1007.5 748.6,999.5 751.0,988.3 C753.4,977.1 756.2,953.0 758.2,940.2 C760.2,927.4 761.4,911.3 763.0,911.3 C764.6,911.3 766.2,927.4 767.8,940.2 C769.4,953.0 771.4,977.5 772.6,988.3 C773.8,999.1 773.4,1005.9 775.0,1005.1 C776.6,1004.3 779.8,994.3 782.2,983.5 C784.6,972.7 787.7,952.2 789.4,940.2 C791.1,928.2 791.1,907.3 792.4,911.3 C793.7,915.3 795.6,945.4 797.2,964.2 C798.8,983.0 800.6,1008.9 802.0,1024.3 C803.4,1039.7 803.6,1052.8 805.6,1056.8 C807.6,1060.8 812.0,1055.8 814.0,1048.4 C816.0,1041.0 816.4,1026.3 817.6,1012.3 C818.8,998.3 820.3,978.2 821.3,964.2 C822.3,950.2 822.7,928.2 823.7,928.2 C824.7,928.2 826.1,950.2 827.3,964.2 C828.5,978.2 829.7,998.7 830.9,1012.3 C832.1,1025.9 832.9,1043.2 834.5,1046.0 C836.1,1048.8 838.3,1042.7 840.5,1029.1 C842.7,1015.5 845.5,983.0 847.7,964.2 C849.9,945.4 852.1,916.2 853.7,916.2 C855.3,916.2 856.1,944.2 857.3,964.2 C858.5,984.2 859.7,1016.3 860.9,1036.3 C862.1,1056.3 862.3,1078.8 864.5,1084.4 C866.7,1090.0 871.7,1082.0 874.1,1070.0 C876.5,1058.0 877.5,1033.9 878.9,1012.3 C880.3,990.7 881.5,957.0 882.5,940.2 C883.5,923.4 884.0,911.3 885.0,911.3 C886.0,911.3 887.4,927.4 888.6,940.2 C889.8,953.0 890.8,975.5 892.2,988.3 C893.6,1001.1 895.2,1015.1 897.0,1017.1 C898.8,1019.1 901.0,1011.1 903.0,1000.3 C905.0,989.5 907.2,967.0 909.0,952.2 C910.8,937.4 912.6,918.9 913.8,911.3 C915.0,903.7 915.4,905.7 916.2,906.5 C917.0,907.3 917.6,906.6 918.6,916.2 C919.6,925.8 921.0,944.2 922.2,964.2 C923.4,984.2 924.6,1015.9 925.8,1036.3 C927.0,1056.7 927.6,1079.6 929.4,1086.8 C931.2,1094.0 934.2,1088.8 936.6,1079.6 C939.0,1070.4 942.4,1041.1 943.8,1031.5 C945.2,1021.9 944.8,1023.5 945.0,1021.9 " fill="none" stroke="#b85a74" stroke-width="2.1" stroke-linejoin="round"/>
<path d="M587.5,924.3 C588.4,923.4 591.0,920.3 593.0,919.0 C595.0,917.7 596.9,916.7 599.2,916.5 C601.5,916.3 604.9,917.2 607.0,917.8 C609.1,918.4 610.3,918.7 612.0,920.0 C613.7,921.3 615.7,923.6 617.4,925.6 C619.1,927.6 620.6,928.3 622.0,932.0 C623.4,935.7 624.3,939.3 626.0,948.0 C627.7,956.7 630.0,969.3 632.0,984.0 C634.0,998.7 636.2,1024.7 638.0,1036.0 C639.8,1047.3 641.3,1048.0 643.0,1052.0 C644.7,1056.0 646.5,1059.3 648.0,1060.0 C649.5,1060.7 650.7,1057.7 652.0,1056.0 C653.3,1054.3 654.3,1052.3 656.0,1050.0 C657.7,1047.7 660.6,1043.7 662.0,1042.0 C663.4,1040.3 663.8,1049.0 664.4,1040.0 C665.0,1031.0 664.8,1006.9 665.6,988.3 C666.4,969.7 667.8,944.2 669.2,928.2 C670.6,912.2 672.2,901.0 674.0,892.1 C675.8,883.2 678.0,878.8 680.0,875.0 C682.0,871.2 684.3,869.8 686.0,869.3 C687.7,868.8 688.6,870.2 690.0,872.0 C691.4,873.8 693.0,874.8 694.5,880.1 C696.0,885.5 698.1,890.1 699.3,904.1 C700.5,918.1 700.7,938.2 701.7,964.2 C702.7,990.2 704.3,1040.0 705.3,1060.4 C706.3,1080.8 706.1,1082.6 707.7,1086.8 C709.3,1091.0 712.9,1087.6 714.9,1085.6 C716.9,1083.6 718.2,1077.7 719.7,1074.8 C721.2,1071.9 722.4,1069.6 724.0,1068.0 C725.6,1066.4 727.8,1078.5 729.3,1065.2 C730.8,1051.9 731.7,1013.1 732.9,988.3 C734.1,963.5 735.1,933.0 736.5,916.2 C737.9,899.4 739.9,893.7 741.3,887.3 C742.7,880.9 743.6,880.2 745.0,878.0 C746.4,875.8 748.0,872.6 749.8,874.1 C751.6,875.6 754.2,880.3 755.8,887.3 C757.4,894.3 758.4,895.4 759.4,916.2 C760.4,937.0 760.8,984.3 761.8,1012.3 C762.8,1040.3 763.2,1072.4 765.4,1084.4 C767.6,1096.4 772.6,1086.0 775.0,1084.4 C777.4,1082.8 777.4,1078.8 779.8,1074.8 C782.2,1070.8 787.0,1074.8 789.4,1060.4 C791.8,1046.0 792.9,1011.7 794.2,988.3 C795.5,964.9 796.1,938.0 797.0,920.0 C797.9,902.0 798.4,889.1 799.6,880.1 C800.8,871.1 802.4,869.1 804.4,865.7 C806.4,862.3 809.6,858.5 811.6,859.7 C813.6,860.9 815.0,865.5 816.4,872.9 C817.8,880.3 819.0,888.9 820.0,904.1 C821.0,919.3 821.5,938.2 822.5,964.2 C823.5,990.2 825.1,1040.0 826.1,1060.4 C827.1,1080.8 827.1,1082.2 828.5,1086.8 C829.9,1091.4 832.5,1090.0 834.5,1088.0 C836.5,1086.0 837.9,1079.4 840.5,1074.8 C843.1,1070.2 847.9,1074.8 850.1,1060.4 C852.3,1046.0 852.5,1016.3 853.7,988.3 C854.9,960.2 855.9,910.9 857.3,892.1 C858.7,873.3 860.1,879.1 862.1,875.3 C864.1,871.5 866.9,868.5 869.3,869.3 C871.7,870.1 874.5,872.3 876.5,880.1 C878.5,887.9 880.1,898.2 881.3,916.2 C882.5,934.2 883.0,964.3 883.8,988.3 C884.6,1012.3 885.4,1044.0 886.2,1060.4 C887.0,1076.8 887.0,1082.8 888.6,1086.8 C890.2,1090.8 893.4,1087.2 895.8,1084.4 C898.2,1081.6 900.2,1074.4 903.0,1070.0 C905.8,1065.6 910.2,1071.6 912.6,1058.0 C915.0,1044.4 915.8,1011.9 917.4,988.3 C919.0,964.7 920.6,932.2 922.2,916.2 C923.8,900.2 925.4,897.5 927.0,892.1 C928.6,886.7 929.8,885.9 931.8,883.7 C933.8,881.5 937.0,880.7 939.0,878.9 C941.0,877.1 943.0,873.9 943.8,872.9 " fill="none" stroke="#1e1e1e" stroke-width="2.1" stroke-linejoin="round"/>
<path d="M587.5,929.5 C589.6,929.2 595.9,928.4 600.0,928.0 C604.1,927.6 608.7,927.2 612.0,927.0 C615.3,926.8 617.8,928.1 620.0,926.9 C622.2,925.7 623.3,923.7 625.0,920.0 C626.7,916.3 628.9,910.1 630.4,904.8 C631.9,899.5 632.7,893.6 634.0,888.0 C635.3,882.4 636.9,876.5 638.2,871.0 C639.5,865.5 640.7,859.8 642.0,855.0 C643.3,850.2 644.5,845.9 646.0,842.4 C647.5,838.9 649.3,836.4 651.0,834.0 C652.7,831.6 654.9,829.0 656.4,828.1 C657.9,827.2 658.9,827.8 660.0,828.4 C661.1,829.0 662.1,828.4 662.9,832.0 C663.7,835.6 664.4,838.7 665.0,850.0 C665.6,861.3 665.7,877.0 666.8,900.0 C667.9,923.0 670.1,963.3 671.6,988.3 C673.1,1013.3 674.6,1034.0 676.0,1050.0 C677.4,1066.0 678.3,1080.3 680.0,1084.4 C681.7,1088.5 683.6,1078.8 686.0,1074.8 C688.4,1070.8 692.3,1070.8 694.5,1060.4 C696.7,1050.0 697.9,1036.3 699.3,1012.3 C700.7,988.3 701.9,941.6 702.9,916.2 C703.9,890.8 704.2,872.0 705.0,860.0 C705.8,848.0 706.5,847.5 707.7,844.0 C709.0,840.5 710.5,840.6 712.5,839.2 C714.5,837.8 717.5,836.8 719.7,835.6 C721.9,834.4 724.1,829.8 725.7,832.0 C727.3,834.2 728.1,835.6 729.3,848.8 C730.5,862.0 731.9,888.0 732.9,911.3 C733.9,934.5 733.7,960.4 735.3,988.3 C736.9,1016.1 739.9,1066.4 742.5,1078.4 C745.1,1090.4 748.6,1065.4 751.0,1060.4 C753.4,1055.4 755.2,1064.4 757.0,1048.4 C758.8,1032.4 760.4,994.3 761.8,964.2 C763.2,934.1 764.0,888.0 765.4,868.0 C766.8,848.0 768.2,849.2 770.2,844.0 C772.2,838.8 774.8,838.6 777.4,836.8 C780.0,835.0 783.6,831.2 785.8,833.2 C788.0,835.2 789.1,835.0 790.6,848.8 C792.1,862.6 793.5,889.0 794.8,916.2 C796.1,943.5 797.0,983.9 798.4,1012.3 C799.8,1040.7 801.0,1076.0 803.2,1086.8 C805.4,1097.6 808.8,1079.8 811.6,1077.2 C814.4,1074.6 818.0,1086.0 820.0,1071.2 C822.0,1056.4 822.5,1018.1 823.7,988.3 C824.9,958.4 826.3,913.3 827.3,892.1 C828.3,870.9 828.1,866.9 829.7,860.9 C831.3,854.9 835.2,857.9 836.9,856.1 C838.6,854.3 838.6,852.2 840.0,850.0 C841.4,847.8 843.8,841.8 845.3,842.8 C846.8,843.8 847.7,845.9 848.9,856.1 C850.1,866.3 851.3,878.1 852.5,904.1 C853.7,930.1 854.7,981.8 856.1,1012.3 C857.5,1042.8 859.1,1075.6 860.9,1086.8 C862.7,1098.0 864.3,1082.4 866.9,1079.6 C869.5,1076.8 874.1,1081.2 876.5,1070.0 C878.9,1058.8 879.9,1037.9 881.3,1012.3 C882.7,986.7 883.8,943.5 885.0,916.2 C886.2,889.0 886.8,860.4 888.6,848.8 C890.4,837.2 893.8,847.6 895.8,846.4 C897.8,845.2 898.6,843.0 900.6,841.6 C902.6,840.2 906.0,835.6 907.8,838.0 C909.6,840.4 910.2,845.1 911.4,856.1 C912.6,867.1 913.6,886.1 915.0,904.1 C916.4,922.1 918.2,942.2 919.8,964.2 C921.4,986.2 923.2,1015.9 924.6,1036.3 C926.0,1056.7 926.2,1079.6 928.2,1086.8 C930.2,1094.0 934.0,1082.4 936.6,1079.6 C939.2,1076.8 942.6,1071.6 943.8,1070.0 " fill="none" stroke="#3a3a9c" stroke-width="2.1" stroke-linejoin="round"/>
<g fill="#fff" stroke="#777" stroke-width="1.2" stroke-dasharray="1.5 3">
<ellipse cx="815" cy="1113" rx="13" ry="10.5"/>
<ellipse cx="827" cy="1124" rx="11" ry="9"/>
</g>
<circle cx="803" cy="1134" r="2.2" fill="#444"/>
<text x="856.2" y="1130.5" font-size="23" font-weight="bold" text-anchor="start" fill="#1a1a1a" stroke="#1a1a1a" stroke-width="0.35" textLength="114" lengthAdjust="spacingAndGlyphs" font-family="'Liberation Sans', 'Noto Sans CJK SC', sans-serif">石墨烯杂志</text>
<text x="855" y="1129" font-size="23" font-weight="bold" text-anchor="start" fill="#fff" textLength="114" lengthAdjust="spacingAndGlyphs" font-family="'Liberation Sans', 'Noto Sans CJK SC', sans-serif">石墨烯杂志</text>
</svg>
</body></html>
